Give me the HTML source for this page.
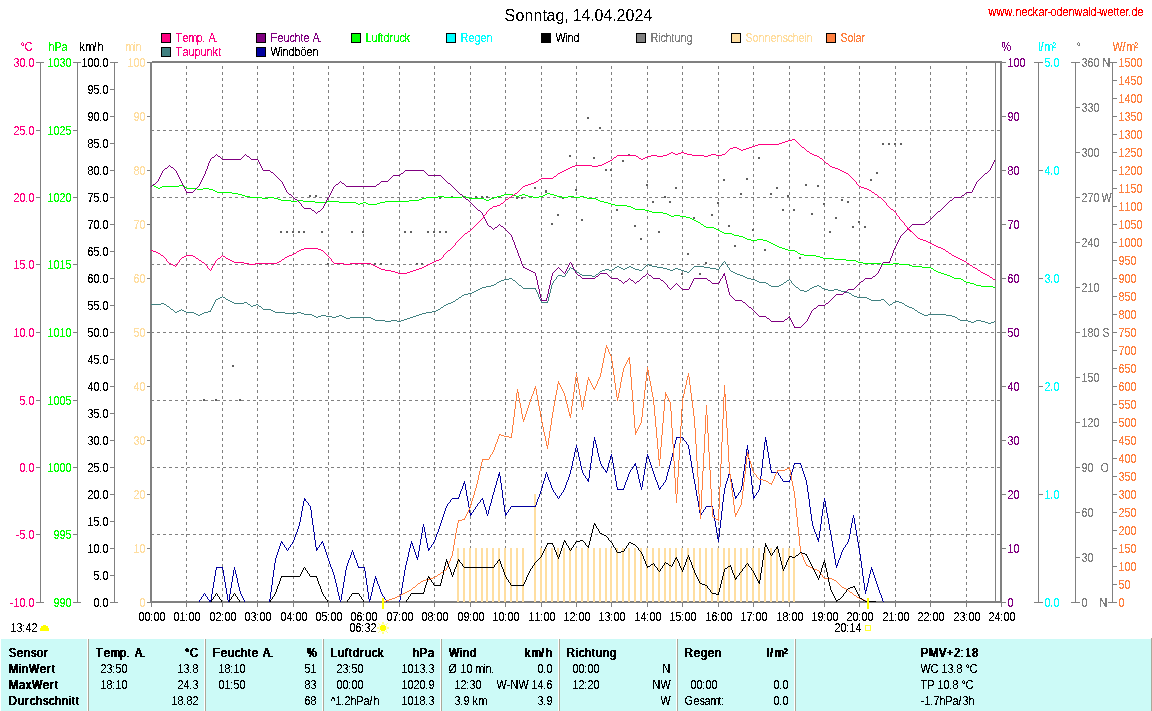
<!DOCTYPE html>
<html><head><meta charset="utf-8"><title>Wetter</title>
<style>html,body{margin:0;padding:0;background:#fff}svg{display:block;will-change:transform}text{white-space:pre}</style></head>
<body>
<svg width="1152" height="711" viewBox="0 0 1152 711" font-family='"Liberation Sans", Arial, sans-serif' shape-rendering="crispEdges">
<rect x="0" y="0" width="1152" height="711" fill="#fff"/>
<defs><filter id="bin2" x="0" y="0" width="1152" height="711" filterUnits="userSpaceOnUse" color-interpolation-filters="sRGB"><feComponentTransfer><feFuncA type="discrete" tableValues="0 0 0 0 0 1 1 1 1 1"/></feComponentTransfer></filter><filter id="binb" x="0" y="0" width="1152" height="711" filterUnits="userSpaceOnUse" color-interpolation-filters="sRGB"><feComponentTransfer result="a"><feFuncA type="discrete" tableValues="0 0 1 1 1"/></feComponentTransfer><feOffset in="a" dx="1" dy="0" result="b"/><feMerge><feMergeNode in="a"/><feMergeNode in="b"/></feMerge></filter><filter id="bin" x="0" y="0" width="1152" height="711" filterUnits="userSpaceOnUse" color-interpolation-filters="sRGB"><feComponentTransfer><feFuncA type="discrete" tableValues="0 0 1 1 1"/></feComponentTransfer></filter></defs>
<rect x="161" y="33" width="10" height="10" fill="#000"/>
<rect x="162" y="34" width="8" height="8" fill="#FF0080"/>
<rect x="161" y="47" width="10" height="10" fill="#000"/>
<rect x="162" y="48" width="8" height="8" fill="#408080"/>
<rect x="256" y="33" width="10" height="10" fill="#000"/>
<rect x="257" y="34" width="8" height="8" fill="#800080"/>
<rect x="256" y="47" width="10" height="10" fill="#000"/>
<rect x="257" y="48" width="8" height="8" fill="#0000A0"/>
<rect x="351" y="33" width="10" height="10" fill="#000"/>
<rect x="352" y="34" width="8" height="8" fill="#00FF00"/>
<rect x="446" y="33" width="10" height="10" fill="#000"/>
<rect x="447" y="34" width="8" height="8" fill="#00FFFF"/>
<rect x="541" y="33" width="10" height="10" fill="#000"/>
<rect x="542" y="34" width="8" height="8" fill="#000"/>
<rect x="636" y="33" width="10" height="10" fill="#000"/>
<rect x="637" y="34" width="8" height="8" fill="#808080"/>
<rect x="731" y="33" width="10" height="10" fill="#000"/>
<rect x="732" y="34" width="8" height="8" fill="#FFDEA0"/>
<rect x="826" y="33" width="10" height="10" fill="#000"/>
<rect x="827" y="34" width="8" height="8" fill="#FF8040"/>
<rect x="40" y="62" width="1" height="541" fill="#808080"/>
<rect x="36" y="602" width="4" height="1" fill="#808080"/>
<rect x="36" y="534" width="4" height="1" fill="#808080"/>
<rect x="36" y="467" width="4" height="1" fill="#808080"/>
<rect x="36" y="400" width="4" height="1" fill="#808080"/>
<rect x="36" y="332" width="4" height="1" fill="#808080"/>
<rect x="36" y="264" width="4" height="1" fill="#808080"/>
<rect x="36" y="197" width="4" height="1" fill="#808080"/>
<rect x="36" y="130" width="4" height="1" fill="#808080"/>
<rect x="36" y="62" width="4" height="1" fill="#808080"/>
<rect x="37" y="62" width="7" height="1" fill="#808080"/>
<rect x="37" y="602" width="7" height="1" fill="#808080"/>
<rect x="77" y="62" width="1" height="541" fill="#808080"/>
<rect x="73" y="602" width="4" height="1" fill="#808080"/>
<rect x="73" y="534" width="4" height="1" fill="#808080"/>
<rect x="73" y="467" width="4" height="1" fill="#808080"/>
<rect x="73" y="400" width="4" height="1" fill="#808080"/>
<rect x="73" y="332" width="4" height="1" fill="#808080"/>
<rect x="73" y="264" width="4" height="1" fill="#808080"/>
<rect x="73" y="197" width="4" height="1" fill="#808080"/>
<rect x="73" y="130" width="4" height="1" fill="#808080"/>
<rect x="73" y="62" width="4" height="1" fill="#808080"/>
<rect x="74" y="62" width="7" height="1" fill="#808080"/>
<rect x="74" y="602" width="7" height="1" fill="#808080"/>
<rect x="114" y="62" width="1" height="541" fill="#808080"/>
<rect x="110" y="602" width="4" height="1" fill="#808080"/>
<rect x="110" y="575" width="4" height="1" fill="#808080"/>
<rect x="110" y="548" width="4" height="1" fill="#808080"/>
<rect x="110" y="521" width="4" height="1" fill="#808080"/>
<rect x="110" y="494" width="4" height="1" fill="#808080"/>
<rect x="110" y="467" width="4" height="1" fill="#808080"/>
<rect x="110" y="440" width="4" height="1" fill="#808080"/>
<rect x="110" y="413" width="4" height="1" fill="#808080"/>
<rect x="110" y="386" width="4" height="1" fill="#808080"/>
<rect x="110" y="359" width="4" height="1" fill="#808080"/>
<rect x="110" y="332" width="4" height="1" fill="#808080"/>
<rect x="110" y="305" width="4" height="1" fill="#808080"/>
<rect x="110" y="278" width="4" height="1" fill="#808080"/>
<rect x="110" y="251" width="4" height="1" fill="#808080"/>
<rect x="110" y="224" width="4" height="1" fill="#808080"/>
<rect x="110" y="197" width="4" height="1" fill="#808080"/>
<rect x="110" y="170" width="4" height="1" fill="#808080"/>
<rect x="110" y="143" width="4" height="1" fill="#808080"/>
<rect x="110" y="116" width="4" height="1" fill="#808080"/>
<rect x="110" y="89" width="4" height="1" fill="#808080"/>
<rect x="110" y="62" width="4" height="1" fill="#808080"/>
<rect x="111" y="62" width="7" height="1" fill="#808080"/>
<rect x="111" y="602" width="7" height="1" fill="#808080"/>
<rect x="147" y="602" width="4" height="1" fill="#808080"/>
<rect x="147" y="548" width="4" height="1" fill="#808080"/>
<rect x="147" y="494" width="4" height="1" fill="#808080"/>
<rect x="147" y="440" width="4" height="1" fill="#808080"/>
<rect x="147" y="386" width="4" height="1" fill="#808080"/>
<rect x="147" y="332" width="4" height="1" fill="#808080"/>
<rect x="147" y="278" width="4" height="1" fill="#808080"/>
<rect x="147" y="224" width="4" height="1" fill="#808080"/>
<rect x="147" y="170" width="4" height="1" fill="#808080"/>
<rect x="147" y="116" width="4" height="1" fill="#808080"/>
<rect x="147" y="62" width="4" height="1" fill="#808080"/>
<rect x="1002" y="602" width="4" height="1" fill="#808080"/>
<rect x="1002" y="548" width="4" height="1" fill="#808080"/>
<rect x="1002" y="494" width="4" height="1" fill="#808080"/>
<rect x="1002" y="440" width="4" height="1" fill="#808080"/>
<rect x="1002" y="386" width="4" height="1" fill="#808080"/>
<rect x="1002" y="332" width="4" height="1" fill="#808080"/>
<rect x="1002" y="278" width="4" height="1" fill="#808080"/>
<rect x="1002" y="224" width="4" height="1" fill="#808080"/>
<rect x="1002" y="170" width="4" height="1" fill="#808080"/>
<rect x="1002" y="116" width="4" height="1" fill="#808080"/>
<rect x="1002" y="62" width="4" height="1" fill="#808080"/>
<rect x="1038" y="62" width="1" height="541" fill="#808080"/>
<rect x="1039" y="602" width="4" height="1" fill="#808080"/>
<rect x="1039" y="494" width="4" height="1" fill="#808080"/>
<rect x="1039" y="386" width="4" height="1" fill="#808080"/>
<rect x="1039" y="278" width="4" height="1" fill="#808080"/>
<rect x="1039" y="170" width="4" height="1" fill="#808080"/>
<rect x="1039" y="62" width="4" height="1" fill="#808080"/>
<rect x="1034" y="62" width="9" height="1" fill="#808080"/>
<rect x="1034" y="602" width="9" height="1" fill="#808080"/>
<rect x="1075" y="62" width="1" height="541" fill="#808080"/>
<rect x="1071" y="62" width="9" height="1" fill="#808080"/>
<rect x="1071" y="602" width="9" height="1" fill="#808080"/>
<rect x="1076" y="602" width="4" height="1" fill="#808080"/>
<rect x="1076" y="557" width="4" height="1" fill="#808080"/>
<rect x="1076" y="512" width="4" height="1" fill="#808080"/>
<rect x="1076" y="467" width="4" height="1" fill="#808080"/>
<rect x="1076" y="422" width="4" height="1" fill="#808080"/>
<rect x="1076" y="377" width="4" height="1" fill="#808080"/>
<rect x="1076" y="332" width="4" height="1" fill="#808080"/>
<rect x="1076" y="287" width="4" height="1" fill="#808080"/>
<rect x="1076" y="242" width="4" height="1" fill="#808080"/>
<rect x="1076" y="197" width="4" height="1" fill="#808080"/>
<rect x="1076" y="152" width="4" height="1" fill="#808080"/>
<rect x="1076" y="107" width="4" height="1" fill="#808080"/>
<rect x="1076" y="62" width="4" height="1" fill="#808080"/>
<rect x="1112" y="62" width="1" height="541" fill="#808080"/>
<rect x="1113" y="602" width="4" height="1" fill="#808080"/>
<rect x="1113" y="584" width="4" height="1" fill="#808080"/>
<rect x="1113" y="566" width="4" height="1" fill="#808080"/>
<rect x="1113" y="548" width="4" height="1" fill="#808080"/>
<rect x="1113" y="530" width="4" height="1" fill="#808080"/>
<rect x="1113" y="512" width="4" height="1" fill="#808080"/>
<rect x="1113" y="494" width="4" height="1" fill="#808080"/>
<rect x="1113" y="476" width="4" height="1" fill="#808080"/>
<rect x="1113" y="458" width="4" height="1" fill="#808080"/>
<rect x="1113" y="440" width="4" height="1" fill="#808080"/>
<rect x="1113" y="422" width="4" height="1" fill="#808080"/>
<rect x="1113" y="404" width="4" height="1" fill="#808080"/>
<rect x="1113" y="386" width="4" height="1" fill="#808080"/>
<rect x="1113" y="368" width="4" height="1" fill="#808080"/>
<rect x="1113" y="350" width="4" height="1" fill="#808080"/>
<rect x="1113" y="332" width="4" height="1" fill="#808080"/>
<rect x="1113" y="314" width="4" height="1" fill="#808080"/>
<rect x="1113" y="296" width="4" height="1" fill="#808080"/>
<rect x="1113" y="278" width="4" height="1" fill="#808080"/>
<rect x="1113" y="260" width="4" height="1" fill="#808080"/>
<rect x="1113" y="242" width="4" height="1" fill="#808080"/>
<rect x="1113" y="224" width="4" height="1" fill="#808080"/>
<rect x="1113" y="206" width="4" height="1" fill="#808080"/>
<rect x="1113" y="188" width="4" height="1" fill="#808080"/>
<rect x="1113" y="170" width="4" height="1" fill="#808080"/>
<rect x="1113" y="152" width="4" height="1" fill="#808080"/>
<rect x="1113" y="134" width="4" height="1" fill="#808080"/>
<rect x="1113" y="116" width="4" height="1" fill="#808080"/>
<rect x="1113" y="98" width="4" height="1" fill="#808080"/>
<rect x="1113" y="80" width="4" height="1" fill="#808080"/>
<rect x="1113" y="62" width="4" height="1" fill="#808080"/>
<rect x="1108" y="62" width="9" height="1" fill="#808080"/>
<rect x="1108" y="602" width="9" height="1" fill="#808080"/>
<line x1="186.5" y1="66" x2="186.5" y2="601" stroke="#808080" stroke-width="1" stroke-dasharray="3,3"/>
<line x1="222.5" y1="66" x2="222.5" y2="601" stroke="#808080" stroke-width="1" stroke-dasharray="3,3"/>
<line x1="257.5" y1="66" x2="257.5" y2="601" stroke="#808080" stroke-width="1" stroke-dasharray="3,3"/>
<line x1="293.5" y1="66" x2="293.5" y2="601" stroke="#808080" stroke-width="1" stroke-dasharray="3,3"/>
<line x1="328.5" y1="66" x2="328.5" y2="601" stroke="#808080" stroke-width="1" stroke-dasharray="3,3"/>
<line x1="363.5" y1="66" x2="363.5" y2="601" stroke="#808080" stroke-width="1" stroke-dasharray="3,3"/>
<line x1="399.5" y1="66" x2="399.5" y2="601" stroke="#808080" stroke-width="1" stroke-dasharray="3,3"/>
<line x1="434.5" y1="66" x2="434.5" y2="601" stroke="#808080" stroke-width="1" stroke-dasharray="3,3"/>
<line x1="470.5" y1="66" x2="470.5" y2="601" stroke="#808080" stroke-width="1" stroke-dasharray="3,3"/>
<line x1="505.5" y1="66" x2="505.5" y2="601" stroke="#808080" stroke-width="1" stroke-dasharray="3,3"/>
<line x1="541.5" y1="66" x2="541.5" y2="601" stroke="#808080" stroke-width="1" stroke-dasharray="3,3"/>
<line x1="576.5" y1="66" x2="576.5" y2="601" stroke="#808080" stroke-width="1" stroke-dasharray="3,3"/>
<line x1="611.5" y1="66" x2="611.5" y2="601" stroke="#808080" stroke-width="1" stroke-dasharray="3,3"/>
<line x1="647.5" y1="66" x2="647.5" y2="601" stroke="#808080" stroke-width="1" stroke-dasharray="3,3"/>
<line x1="682.5" y1="66" x2="682.5" y2="601" stroke="#808080" stroke-width="1" stroke-dasharray="3,3"/>
<line x1="718.5" y1="66" x2="718.5" y2="601" stroke="#808080" stroke-width="1" stroke-dasharray="3,3"/>
<line x1="753.5" y1="66" x2="753.5" y2="601" stroke="#808080" stroke-width="1" stroke-dasharray="3,3"/>
<line x1="789.5" y1="66" x2="789.5" y2="601" stroke="#808080" stroke-width="1" stroke-dasharray="3,3"/>
<line x1="824.5" y1="66" x2="824.5" y2="601" stroke="#808080" stroke-width="1" stroke-dasharray="3,3"/>
<line x1="859.5" y1="66" x2="859.5" y2="601" stroke="#808080" stroke-width="1" stroke-dasharray="3,3"/>
<line x1="895.5" y1="66" x2="895.5" y2="601" stroke="#808080" stroke-width="1" stroke-dasharray="3,3"/>
<line x1="930.5" y1="66" x2="930.5" y2="601" stroke="#808080" stroke-width="1" stroke-dasharray="3,3"/>
<line x1="966.5" y1="66" x2="966.5" y2="601" stroke="#808080" stroke-width="1" stroke-dasharray="3,3"/>
<line x1="151" y1="130.5" x2="1000" y2="130.5" stroke="#808080" stroke-width="1" stroke-dasharray="3,3"/>
<line x1="151" y1="197.5" x2="1000" y2="197.5" stroke="#808080" stroke-width="1" stroke-dasharray="3,3"/>
<line x1="151" y1="264.5" x2="1000" y2="264.5" stroke="#808080" stroke-width="1" stroke-dasharray="3,3"/>
<line x1="151" y1="332.5" x2="1000" y2="332.5" stroke="#808080" stroke-width="1" stroke-dasharray="3,3"/>
<line x1="151" y1="400.5" x2="1000" y2="400.5" stroke="#808080" stroke-width="1" stroke-dasharray="3,3"/>
<line x1="151" y1="467.5" x2="1000" y2="467.5" stroke="#808080" stroke-width="1" stroke-dasharray="3,3"/>
<line x1="151" y1="534.5" x2="1000" y2="534.5" stroke="#808080" stroke-width="1" stroke-dasharray="3,3"/>
<rect x="150" y="62" width="2" height="541" fill="#808080"/>
<rect x="152" y="61" width="850" height="2" fill="#808080"/>
<rect x="150" y="601" width="852" height="2" fill="#808080"/>
<rect x="1000" y="61" width="2" height="542" fill="#808080"/>
<rect x="147" y="62" width="3" height="1" fill="#808080"/>
<rect x="147" y="602" width="3" height="1" fill="#808080"/>
<rect x="457" y="548" width="2" height="54" fill="#FFDEA0"/>
<rect x="463" y="548" width="2" height="54" fill="#FFDEA0"/>
<rect x="469" y="548" width="2" height="54" fill="#FFDEA0"/>
<rect x="475" y="548" width="2" height="54" fill="#FFDEA0"/>
<rect x="481" y="548" width="2" height="54" fill="#FFDEA0"/>
<rect x="486" y="548" width="2" height="54" fill="#FFDEA0"/>
<rect x="492" y="548" width="2" height="54" fill="#FFDEA0"/>
<rect x="498" y="548" width="2" height="54" fill="#FFDEA0"/>
<rect x="504" y="548" width="2" height="54" fill="#FFDEA0"/>
<rect x="510" y="548" width="2" height="54" fill="#FFDEA0"/>
<rect x="516" y="548" width="2" height="54" fill="#FFDEA0"/>
<rect x="522" y="548" width="2" height="54" fill="#FFDEA0"/>
<rect x="540" y="548" width="2" height="54" fill="#FFDEA0"/>
<rect x="545" y="548" width="2" height="54" fill="#FFDEA0"/>
<rect x="551" y="548" width="2" height="54" fill="#FFDEA0"/>
<rect x="557" y="548" width="2" height="54" fill="#FFDEA0"/>
<rect x="563" y="548" width="2" height="54" fill="#FFDEA0"/>
<rect x="569" y="548" width="2" height="54" fill="#FFDEA0"/>
<rect x="575" y="548" width="2" height="54" fill="#FFDEA0"/>
<rect x="581" y="548" width="2" height="54" fill="#FFDEA0"/>
<rect x="587" y="548" width="2" height="54" fill="#FFDEA0"/>
<rect x="593" y="548" width="2" height="54" fill="#FFDEA0"/>
<rect x="599" y="548" width="2" height="54" fill="#FFDEA0"/>
<rect x="605" y="548" width="2" height="54" fill="#FFDEA0"/>
<rect x="610" y="548" width="2" height="54" fill="#FFDEA0"/>
<rect x="616" y="548" width="2" height="54" fill="#FFDEA0"/>
<rect x="622" y="548" width="2" height="54" fill="#FFDEA0"/>
<rect x="628" y="548" width="2" height="54" fill="#FFDEA0"/>
<rect x="634" y="548" width="2" height="54" fill="#FFDEA0"/>
<rect x="640" y="548" width="2" height="54" fill="#FFDEA0"/>
<rect x="646" y="548" width="2" height="54" fill="#FFDEA0"/>
<rect x="652" y="548" width="2" height="54" fill="#FFDEA0"/>
<rect x="658" y="548" width="2" height="54" fill="#FFDEA0"/>
<rect x="664" y="548" width="2" height="54" fill="#FFDEA0"/>
<rect x="669" y="548" width="2" height="54" fill="#FFDEA0"/>
<rect x="675" y="548" width="2" height="54" fill="#FFDEA0"/>
<rect x="681" y="548" width="2" height="54" fill="#FFDEA0"/>
<rect x="687" y="548" width="2" height="54" fill="#FFDEA0"/>
<rect x="693" y="548" width="2" height="54" fill="#FFDEA0"/>
<rect x="699" y="548" width="2" height="54" fill="#FFDEA0"/>
<rect x="705" y="548" width="2" height="54" fill="#FFDEA0"/>
<rect x="711" y="548" width="2" height="54" fill="#FFDEA0"/>
<rect x="717" y="548" width="2" height="54" fill="#FFDEA0"/>
<rect x="723" y="548" width="2" height="54" fill="#FFDEA0"/>
<rect x="728" y="548" width="2" height="54" fill="#FFDEA0"/>
<rect x="734" y="548" width="2" height="54" fill="#FFDEA0"/>
<rect x="740" y="548" width="2" height="54" fill="#FFDEA0"/>
<rect x="746" y="548" width="2" height="54" fill="#FFDEA0"/>
<rect x="752" y="548" width="2" height="54" fill="#FFDEA0"/>
<rect x="758" y="548" width="2" height="54" fill="#FFDEA0"/>
<rect x="764" y="548" width="2" height="54" fill="#FFDEA0"/>
<rect x="770" y="548" width="2" height="54" fill="#FFDEA0"/>
<rect x="776" y="548" width="2" height="54" fill="#FFDEA0"/>
<rect x="782" y="548" width="2" height="54" fill="#FFDEA0"/>
<rect x="788" y="548" width="2" height="54" fill="#FFDEA0"/>
<rect x="793" y="548" width="2" height="54" fill="#FFDEA0"/>
<rect x="534" y="494" width="2" height="108" fill="#FFDEA0"/>
<rect x="280" y="231" width="2" height="2" fill="#606060"/>
<rect x="286" y="231" width="2" height="2" fill="#606060"/>
<rect x="292" y="231" width="2" height="2" fill="#606060"/>
<rect x="298" y="231" width="2" height="2" fill="#606060"/>
<rect x="303" y="231" width="2" height="2" fill="#606060"/>
<rect x="321" y="231" width="2" height="2" fill="#606060"/>
<rect x="351" y="231" width="2" height="2" fill="#606060"/>
<rect x="362" y="231" width="2" height="2" fill="#606060"/>
<rect x="404" y="231" width="2" height="2" fill="#606060"/>
<rect x="410" y="231" width="2" height="2" fill="#606060"/>
<rect x="427" y="231" width="2" height="2" fill="#606060"/>
<rect x="433" y="231" width="2" height="2" fill="#606060"/>
<rect x="439" y="231" width="2" height="2" fill="#606060"/>
<rect x="445" y="231" width="2" height="2" fill="#606060"/>
<rect x="534" y="187" width="2" height="2" fill="#606060"/>
<rect x="545" y="191" width="2" height="2" fill="#606060"/>
<rect x="551" y="223" width="2" height="2" fill="#606060"/>
<rect x="557" y="214" width="2" height="2" fill="#606060"/>
<rect x="569" y="155" width="2" height="2" fill="#606060"/>
<rect x="575" y="189" width="2" height="2" fill="#606060"/>
<rect x="581" y="219" width="2" height="2" fill="#606060"/>
<rect x="593" y="157" width="2" height="2" fill="#606060"/>
<rect x="605" y="169" width="2" height="2" fill="#606060"/>
<rect x="610" y="169" width="2" height="2" fill="#606060"/>
<rect x="616" y="209" width="2" height="2" fill="#606060"/>
<rect x="622" y="160" width="2" height="2" fill="#606060"/>
<rect x="628" y="154" width="2" height="2" fill="#606060"/>
<rect x="634" y="225" width="2" height="2" fill="#606060"/>
<rect x="640" y="238" width="2" height="2" fill="#606060"/>
<rect x="646" y="184" width="2" height="2" fill="#606060"/>
<rect x="652" y="201" width="2" height="2" fill="#606060"/>
<rect x="658" y="231" width="2" height="2" fill="#606060"/>
<rect x="664" y="196" width="2" height="2" fill="#606060"/>
<rect x="669" y="201" width="2" height="2" fill="#606060"/>
<rect x="675" y="187" width="2" height="2" fill="#606060"/>
<rect x="693" y="217" width="2" height="2" fill="#606060"/>
<rect x="711" y="214" width="2" height="2" fill="#606060"/>
<rect x="717" y="202" width="2" height="2" fill="#606060"/>
<rect x="723" y="179" width="2" height="2" fill="#606060"/>
<rect x="728" y="225" width="2" height="2" fill="#606060"/>
<rect x="734" y="245" width="2" height="2" fill="#606060"/>
<rect x="740" y="193" width="2" height="2" fill="#606060"/>
<rect x="746" y="178" width="2" height="2" fill="#606060"/>
<rect x="752" y="229" width="2" height="2" fill="#606060"/>
<rect x="758" y="157" width="2" height="2" fill="#606060"/>
<rect x="770" y="193" width="2" height="2" fill="#606060"/>
<rect x="776" y="187" width="2" height="2" fill="#606060"/>
<rect x="782" y="209" width="2" height="2" fill="#606060"/>
<rect x="787" y="195" width="2" height="2" fill="#606060"/>
<rect x="793" y="209" width="2" height="2" fill="#606060"/>
<rect x="805" y="184" width="2" height="2" fill="#606060"/>
<rect x="811" y="213" width="2" height="2" fill="#606060"/>
<rect x="817" y="185" width="2" height="2" fill="#606060"/>
<rect x="823" y="203" width="2" height="2" fill="#606060"/>
<rect x="829" y="231" width="2" height="2" fill="#606060"/>
<rect x="835" y="217" width="2" height="2" fill="#606060"/>
<rect x="841" y="199" width="2" height="2" fill="#606060"/>
<rect x="847" y="201" width="2" height="2" fill="#606060"/>
<rect x="852" y="226" width="2" height="2" fill="#606060"/>
<rect x="858" y="221" width="2" height="2" fill="#606060"/>
<rect x="864" y="226" width="2" height="2" fill="#606060"/>
<rect x="870" y="179" width="2" height="2" fill="#606060"/>
<rect x="876" y="172" width="2" height="2" fill="#606060"/>
<rect x="882" y="143" width="2" height="2" fill="#606060"/>
<rect x="888" y="143" width="2" height="2" fill="#606060"/>
<rect x="894" y="143" width="2" height="2" fill="#606060"/>
<rect x="900" y="143" width="2" height="2" fill="#606060"/>
<rect x="687" y="253" width="2" height="2" fill="#606060"/>
<rect x="705" y="262" width="2" height="2" fill="#606060"/>
<rect x="699" y="273" width="2" height="2" fill="#606060"/>
<rect x="681" y="273" width="2" height="2" fill="#606060"/>
<rect x="764" y="249" width="2" height="2" fill="#606060"/>
<rect x="799" y="257" width="2" height="2" fill="#606060"/>
<rect x="587" y="117" width="2" height="2" fill="#606060"/>
<rect x="599" y="127" width="2" height="2" fill="#606060"/>
<rect x="232" y="365" width="2" height="2" fill="#606060"/>
<rect x="203" y="399" width="2" height="2" fill="#606060"/>
<rect x="215" y="399" width="2" height="2" fill="#606060"/>
<rect x="239" y="399" width="2" height="2" fill="#606060"/>
<rect x="309" y="195" width="2" height="2" fill="#606060"/>
<rect x="315" y="195" width="2" height="2" fill="#606060"/>
<rect x="451" y="196" width="2" height="2" fill="#606060"/>
<rect x="475" y="196" width="2" height="2" fill="#606060"/>
<rect x="481" y="196" width="2" height="2" fill="#606060"/>
<rect x="486" y="196" width="2" height="2" fill="#606060"/>
<rect x="498" y="196" width="2" height="2" fill="#606060"/>
<rect x="327" y="263" width="2" height="2" fill="#606060"/>
<rect x="374" y="263" width="2" height="2" fill="#606060"/>
<rect x="380" y="263" width="2" height="2" fill="#606060"/>
<rect x="416" y="263" width="2" height="2" fill="#606060"/>
<rect x="421" y="263" width="2" height="2" fill="#606060"/>
<rect x="439" y="197" width="2" height="2" fill="#606060"/>
<rect x="492" y="197" width="2" height="2" fill="#606060"/>
<rect x="516" y="197" width="2" height="2" fill="#606060"/>
<rect x="521" y="197" width="2" height="2" fill="#606060"/>
<rect x="545" y="190" width="2" height="2" fill="#606060"/>
<rect x="562" y="197" width="2" height="2" fill="#606060"/>
<path fill="#00FF00" d="M881 264h12v1h-12zM899 264h10v1h-10zM250 197h12v1h-12zM268 197h6v1h-6zM426 197h12v1h-12zM444 197h18v1h-18zM466 197h3v1h-3zM493 197h4v1h-4zM533 197h6v1h-6zM562 197h6v1h-6zM574 197h6v1h-6zM584 197h3v1h-3zM944 274h3v1h-3zM245 196h5v1h-5zM438 196h6v1h-6zM462 196h4v1h-4zM497 196h4v1h-4zM516 196h3v1h-3zM528 196h5v1h-5zM539 196h4v1h-4zM557 196h5v1h-5zM568 196h6v1h-6zM580 196h4v1h-4zM863 263h18v1h-18zM893 263h6v1h-6zM912 266h10v1h-10zM976 285h5v1h-5zM278 199h3v1h-3zM419 199h3v1h-3zM484 199h2v1h-2zM489 199h2v1h-2zM596 199h2v1h-2zM356 203h2v1h-2zM360 203h3v1h-3zM366 203h2v1h-2zM377 203h3v1h-3zM608 203h3v1h-3zM238 194h4v1h-4zM504 194h9v1h-9zM522 194h3v1h-3zM545 194h2v1h-2zM550 194h4v1h-4zM692 219h2v1h-2zM291 201h6v1h-6zM303 201h12v1h-12zM327 201h12v1h-12zM385 201h24v1h-24zM600 201h4v1h-4zM993 287h3v1h-3zM217 192h15v1h-15zM706 227h8v1h-8zM281 200h10v1h-10zM297 200h6v1h-6zM409 200h10v1h-10zM486 200h3v1h-3zM598 200h2v1h-2zM823 258h11v1h-11zM846 260h10v1h-10zM156 187h2v1h-2zM160 187h2v1h-2zM185 187h2v1h-2zM981 286h12v1h-12zM197 189h6v1h-6zM209 189h4v1h-4zM954 278h7v1h-7zM358 204h2v1h-2zM368 204h9v1h-9zM611 204h4v1h-4zM734 235h5v1h-5zM785 249h3v1h-3zM615 205h12v1h-12zM696 221h2v1h-2zM686 217h4v1h-4zM718 230h2v1h-2zM739 236h4v1h-4zM722 232h2v1h-2zM788 250h7v1h-7zM652 212h11v1h-11zM627 206h4v1h-4zM242 195h3v1h-3zM501 195h3v1h-3zM513 195h3v1h-3zM519 195h3v1h-3zM525 195h3v1h-3zM543 195h2v1h-2zM554 195h3v1h-3zM315 202h12v1h-12zM339 202h17v1h-17zM363 202h3v1h-3zM380 202h5v1h-5zM604 202h4v1h-4zM158 188h2v1h-2zM187 188h10v1h-10zM203 188h6v1h-6zM154 186h2v1h-2zM162 186h17v1h-17zM183 186h2v1h-2zM922 267h9v1h-9zM714 228h2v1h-2zM635 209h10v1h-10zM745 238h2v1h-2zM262 198h6v1h-6zM274 198h4v1h-4zM422 198h4v1h-4zM469 198h15v1h-15zM491 198h2v1h-2zM587 198h9v1h-9zM804 255h12v1h-12zM963 280h1v1h-1zM232 193h6v1h-6zM547 193h3v1h-3zM747 239h4v1h-4zM757 239h6v1h-6zM834 259h12v1h-12zM964 281h2v1h-2zM631 207h2v1h-2zM663 213h4v1h-4zM669 215h2v1h-2zM674 215h6v1h-6zM152 185h2v1h-2zM179 185h4v1h-4zM966 282h4v1h-4zM645 210h4v1h-4zM671 216h3v1h-3zM680 216h6v1h-6zM909 265h3v1h-3zM649 211h3v1h-3zM724 233h8v1h-8zM800 254h4v1h-4zM856 261h2v1h-2zM970 283h4v1h-4zM858 262h5v1h-5zM797 252h1v1h-1zM816 256h4v1h-4zM974 284h2v1h-2zM936 271h2v1h-2zM751 240h6v1h-6zM763 240h4v1h-4zM732 234h2v1h-2zM941 273h3v1h-3zM933 269h1v1h-1zM773 244h2v1h-2zM777 246h2v1h-2zM694 220h2v1h-2zM947 275h3v1h-3zM769 242h2v1h-2zM938 272h3v1h-3zM213 190h2v1h-2zM698 222h2v1h-2zM215 191h2v1h-2zM779 247h3v1h-3zM820 257h3v1h-3zM782 248h3v1h-3zM701 224h2v1h-2zM720 231h2v1h-2zM950 276h2v1h-2zM716 229h2v1h-2zM633 208h2v1h-2zM795 251h2v1h-2zM798 253h2v1h-2zM961 279h2v1h-2zM703 225h1v1h-1zM704 226h2v1h-2zM934 270h2v1h-2zM775 245h2v1h-2zM767 241h2v1h-2zM771 243h2v1h-2zM690 218h2v1h-2zM952 277h2v1h-2zM700 223h1v1h-1zM743 237h2v1h-2zM667 214h2v1h-2zM931 268h2v1h-2z"/>
<path fill="#800080" d="M726 280h1v4h-1zM550 280h1v5h-1zM729 292h1v3h-1zM514 242h1v3h-1zM208 163h1v3h-1zM546 298h1v3h-1zM520 258h1v3h-1zM725 276h1v4h-1zM728 288h1v4h-1zM535 273h1v3h-1zM207 166h1v3h-1zM538 285h1v4h-1zM549 285h1v4h-1zM727 284h1v4h-1zM541 298h1v3h-1zM892 253h1v3h-1zM537 280h1v5h-1zM724 273h1v3h-1zM548 289h1v5h-1zM540 294h1v4h-1zM205 171h1v3h-1zM515 245h1v3h-1zM512 237h1v3h-1zM552 273h1v3h-1zM518 253h1v3h-1zM551 276h1v4h-1zM547 294h1v4h-1zM539 289h1v5h-1zM536 276h1v4h-1zM890 258h1v3h-1zM893 250h1v3h-1zM521 261h1v3h-1zM517 250h1v3h-1zM209 161h1v1h-1zM258 161h1v1h-1zM994 161h1v1h-1zM260 164h1v1h-1zM992 164h1v1h-1zM794 327h7v1h-7zM580 276h1v1h-1zM596 276h2v1h-2zM609 276h1v1h-1zM643 276h2v1h-2zM651 276h1v1h-1zM722 276h1v1h-1zM873 276h2v1h-2zM747 305h1v1h-1zM818 305h7v1h-7zM621 281h1v1h-1zM625 281h2v1h-2zM633 281h1v1h-1zM637 281h2v1h-2zM663 281h1v1h-1zM692 281h1v1h-1zM710 281h1v1h-1zM719 281h1v1h-1zM861 281h2v1h-2zM753 310h1v1h-1zM812 310h1v1h-1zM159 178h1v1h-1zM179 178h1v1h-1zM202 178h1v1h-1zM278 178h1v1h-1zM390 178h1v1h-1zM443 178h1v1h-1zM980 178h1v1h-1zM210 159h1v1h-1zM222 159h19v1h-19zM251 159h7v1h-7zM995 159h1v1h-1zM215 155h1v1h-1zM217 155h1v1h-1zM244 155h1v1h-1zM246 155h1v1h-1zM531 271h2v1h-2zM554 271h1v1h-1zM562 271h1v1h-1zM565 271h1v1h-1zM575 271h1v1h-1zM878 271h1v1h-1zM293 197h1v1h-1zM328 197h1v1h-1zM464 197h1v1h-1zM954 197h7v1h-7zM153 184h2v1h-2zM182 184h1v1h-1zM199 184h1v1h-1zM283 184h1v1h-1zM336 184h2v1h-2zM344 184h1v1h-1zM377 184h2v1h-2zM450 184h1v1h-1zM975 184h1v1h-1zM151 186h1v1h-1zM183 186h1v1h-1zM198 186h1v1h-1zM284 186h1v1h-1zM334 186h1v1h-1zM346 186h30v1h-30zM452 186h1v1h-1zM974 186h1v1h-1zM889 261h1v1h-1zM511 235h1v1h-1zM901 235h1v1h-1zM523 266h1v1h-1zM568 266h1v1h-1zM572 266h1v1h-1zM881 266h1v1h-1zM158 180h1v1h-1zM180 180h1v1h-1zM201 180h1v1h-1zM280 180h1v1h-1zM388 180h1v1h-1zM445 180h1v1h-1zM978 180h1v1h-1zM163 170h1v1h-1zM175 170h1v1h-1zM206 170h1v1h-1zM263 170h7v1h-7zM405 170h19v1h-19zM989 170h1v1h-1zM304 208h7v1h-7zM322 208h1v1h-1zM476 208h1v1h-1zM942 208h1v1h-1zM158 179h1v1h-1zM180 179h1v1h-1zM202 179h1v1h-1zM279 179h1v1h-1zM389 179h1v1h-1zM444 179h1v1h-1zM979 179h1v1h-1zM214 156h1v1h-1zM218 156h2v1h-2zM243 156h1v1h-1zM247 156h2v1h-2zM186 192h7v1h-7zM287 192h1v1h-1zM331 192h1v1h-1zM458 192h1v1h-1zM966 192h6v1h-6zM506 230h1v1h-1zM906 230h1v1h-1zM298 201h1v1h-1zM326 201h1v1h-1zM469 201h1v1h-1zM949 201h1v1h-1zM582 278h13v1h-13zM611 278h7v1h-7zM629 278h1v1h-1zM641 278h1v1h-1zM653 278h7v1h-7zM694 278h13v1h-13zM721 278h1v1h-1zM865 278h7v1h-7zM294 198h1v1h-1zM327 198h1v1h-1zM465 198h1v1h-1zM953 198h1v1h-1zM619 280h2v1h-2zM627 280h1v1h-1zM631 280h2v1h-2zM639 280h1v1h-1zM661 280h2v1h-2zM693 280h1v1h-1zM708 280h2v1h-2zM720 280h1v1h-1zM863 280h1v1h-1zM623 283h1v1h-1zM635 283h1v1h-1zM665 283h1v1h-1zM676 283h1v1h-1zM691 283h1v1h-1zM712 283h7v1h-7zM859 283h1v1h-1zM771 321h13v1h-13zM791 321h1v1h-1zM806 321h1v1h-1zM185 190h1v1h-1zM194 190h1v1h-1zM286 190h1v1h-1zM332 190h1v1h-1zM456 190h1v1h-1zM972 190h1v1h-1zM522 264h1v1h-1zM569 264h1v1h-1zM571 264h1v1h-1zM882 264h1v1h-1zM622 282h1v1h-1zM624 282h1v1h-1zM634 282h1v1h-1zM636 282h1v1h-1zM664 282h1v1h-1zM692 282h1v1h-1zM711 282h1v1h-1zM719 282h1v1h-1zM860 282h1v1h-1zM487 224h1v1h-1zM499 224h1v1h-1zM912 224h13v1h-13zM766 317h1v1h-1zM788 317h2v1h-2zM808 317h1v1h-1zM168 166h1v1h-1zM170 166h1v1h-1zM261 166h1v1h-1zM991 166h1v1h-1zM301 204h1v1h-1zM324 204h1v1h-1zM472 204h1v1h-1zM946 204h1v1h-1zM564 273h1v1h-1zM576 273h1v1h-1zM600 273h7v1h-7zM647 273h1v1h-1zM877 273h1v1h-1zM184 187h1v1h-1zM197 187h1v1h-1zM284 187h1v1h-1zM333 187h1v1h-1zM453 187h1v1h-1zM974 187h1v1h-1zM483 215h1v1h-1zM934 215h1v1h-1zM155 183h1v1h-1zM182 183h1v1h-1zM200 183h1v1h-1zM282 183h1v1h-1zM338 183h1v1h-1zM342 183h2v1h-2zM379 183h1v1h-1zM448 183h2v1h-2zM976 183h1v1h-1zM161 173h1v1h-1zM177 173h1v1h-1zM273 173h1v1h-1zM401 173h2v1h-2zM426 173h1v1h-1zM985 173h2v1h-2zM184 188h1v1h-1zM196 188h1v1h-1zM285 188h1v1h-1zM333 188h1v1h-1zM454 188h1v1h-1zM973 188h1v1h-1zM482 214h1v1h-1zM935 214h1v1h-1zM212 157h2v1h-2zM220 157h1v1h-1zM242 157h1v1h-1zM249 157h1v1h-1zM667 285h1v1h-1zM674 285h1v1h-1zM678 285h1v1h-1zM690 285h1v1h-1zM857 285h1v1h-1zM165 168h2v1h-2zM173 168h1v1h-1zM262 168h1v1h-1zM990 168h1v1h-1zM792 323h1v1h-1zM804 323h1v1h-1zM484 217h1v1h-1zM932 217h1v1h-1zM516 248h1v1h-1zM894 248h1v1h-1zM618 279h1v1h-1zM628 279h1v1h-1zM630 279h1v1h-1zM640 279h1v1h-1zM660 279h1v1h-1zM693 279h1v1h-1zM707 279h1v1h-1zM720 279h1v1h-1zM864 279h1v1h-1zM216 154h1v1h-1zM245 154h1v1h-1zM160 175h1v1h-1zM178 175h1v1h-1zM204 175h1v1h-1zM275 175h1v1h-1zM393 175h7v1h-7zM428 175h13v1h-13zM983 175h1v1h-1zM670 289h1v1h-1zM682 289h7v1h-7zM848 289h6v1h-6zM770 320h1v1h-1zM784 320h1v1h-1zM791 320h1v1h-1zM807 320h1v1h-1zM185 189h1v1h-1zM195 189h1v1h-1zM285 189h1v1h-1zM332 189h1v1h-1zM455 189h1v1h-1zM973 189h1v1h-1zM749 307h2v1h-2zM816 307h1v1h-1zM291 195h1v1h-1zM329 195h1v1h-1zM462 195h1v1h-1zM962 195h2v1h-2zM492 228h1v1h-1zM494 228h1v1h-1zM504 228h1v1h-1zM908 228h1v1h-1zM152 185h1v1h-1zM183 185h1v1h-1zM199 185h1v1h-1zM283 185h1v1h-1zM335 185h1v1h-1zM345 185h1v1h-1zM376 185h1v1h-1zM451 185h1v1h-1zM975 185h1v1h-1zM751 308h1v1h-1zM814 308h2v1h-2zM522 265h1v1h-1zM568 265h1v1h-1zM572 265h1v1h-1zM881 265h1v1h-1zM836 294h7v1h-7zM745 303h1v1h-1zM826 303h2v1h-2zM156 182h1v1h-1zM181 182h1v1h-1zM200 182h1v1h-1zM282 182h1v1h-1zM339 182h1v1h-1zM341 182h1v1h-1zM380 182h1v1h-1zM447 182h1v1h-1zM976 182h1v1h-1zM210 160h1v1h-1zM258 160h1v1h-1zM994 160h1v1h-1zM157 181h1v1h-1zM181 181h1v1h-1zM201 181h1v1h-1zM281 181h1v1h-1zM340 181h1v1h-1zM381 181h7v1h-7zM446 181h1v1h-1zM977 181h1v1h-1zM507 231h1v1h-1zM905 231h1v1h-1zM757 314h1v1h-1zM810 314h1v1h-1zM569 263h1v1h-1zM571 263h1v1h-1zM882 263h1v1h-1zM314 211h1v1h-1zM318 211h2v1h-2zM480 211h1v1h-1zM938 211h2v1h-2zM159 177h1v1h-1zM179 177h1v1h-1zM203 177h1v1h-1zM277 177h1v1h-1zM391 177h1v1h-1zM442 177h1v1h-1zM981 177h1v1h-1zM489 226h2v1h-2zM497 226h1v1h-1zM501 226h2v1h-2zM910 226h1v1h-1zM667 286h1v1h-1zM673 286h1v1h-1zM679 286h1v1h-1zM690 286h1v1h-1zM856 286h1v1h-1zM758 315h1v1h-1zM809 315h1v1h-1zM844 292h2v1h-2zM900 237h1v1h-1zM491 227h1v1h-1zM495 227h2v1h-2zM503 227h1v1h-1zM909 227h1v1h-1zM542 300h4v1h-4zM735 300h7v1h-7zM830 300h1v1h-1zM493 229h1v1h-1zM505 229h1v1h-1zM907 229h1v1h-1zM297 200h1v1h-1zM326 200h1v1h-1zM468 200h1v1h-1zM950 200h2v1h-2zM792 322h1v1h-1zM805 322h1v1h-1zM316 213h1v1h-1zM482 213h1v1h-1zM936 213h1v1h-1zM759 316h7v1h-7zM789 316h1v1h-1zM809 316h1v1h-1zM669 288h1v1h-1zM671 288h1v1h-1zM681 288h1v1h-1zM689 288h1v1h-1zM854 288h1v1h-1zM312 210h2v1h-2zM320 210h1v1h-1zM478 210h2v1h-2zM940 210h1v1h-1zM161 174h1v1h-1zM177 174h1v1h-1zM204 174h1v1h-1zM274 174h1v1h-1zM400 174h1v1h-1zM427 174h1v1h-1zM984 174h1v1h-1zM488 225h1v1h-1zM498 225h1v1h-1zM500 225h1v1h-1zM911 225h1v1h-1zM519 257h1v1h-1zM891 257h1v1h-1zM896 244h1v1h-1zM668 287h1v1h-1zM672 287h1v1h-1zM680 287h1v1h-1zM689 287h1v1h-1zM855 287h1v1h-1zM731 296h1v1h-1zM834 296h1v1h-1zM167 167h1v1h-1zM171 167h2v1h-2zM261 167h1v1h-1zM991 167h1v1h-1zM755 312h1v1h-1zM811 312h1v1h-1zM295 199h2v1h-2zM327 199h1v1h-1zM466 199h2v1h-2zM952 199h1v1h-1zM581 277h1v1h-1zM595 277h1v1h-1zM610 277h1v1h-1zM642 277h1v1h-1zM652 277h1v1h-1zM722 277h1v1h-1zM872 277h1v1h-1zM525 268h2v1h-2zM557 268h1v1h-1zM559 268h1v1h-1zM567 268h1v1h-1zM573 268h1v1h-1zM880 268h1v1h-1zM895 247h1v1h-1zM259 163h1v1h-1zM993 163h1v1h-1zM746 304h1v1h-1zM825 304h1v1h-1zM289 194h2v1h-2zM330 194h1v1h-1zM460 194h2v1h-2zM964 194h1v1h-1zM300 203h1v1h-1zM325 203h1v1h-1zM471 203h1v1h-1zM947 203h1v1h-1zM302 206h1v1h-1zM323 206h1v1h-1zM474 206h1v1h-1zM944 206h1v1h-1zM570 262h1v1h-1zM883 262h7v1h-7zM511 236h1v1h-1zM900 236h1v1h-1zM303 207h1v1h-1zM323 207h1v1h-1zM475 207h1v1h-1zM943 207h1v1h-1zM523 267h2v1h-2zM558 267h1v1h-1zM567 267h1v1h-1zM573 267h1v1h-1zM880 267h1v1h-1zM164 169h1v1h-1zM174 169h1v1h-1zM206 169h1v1h-1zM262 169h1v1h-1zM990 169h1v1h-1zM186 191h1v1h-1zM193 191h1v1h-1zM286 191h1v1h-1zM331 191h1v1h-1zM457 191h1v1h-1zM972 191h1v1h-1zM578 275h2v1h-2zM598 275h1v1h-1zM608 275h1v1h-1zM645 275h1v1h-1zM649 275h2v1h-2zM723 275h1v1h-1zM875 275h1v1h-1zM486 222h1v1h-1zM926 222h2v1h-2zM767 318h2v1h-2zM787 318h1v1h-1zM790 318h1v1h-1zM808 318h1v1h-1zM311 209h1v1h-1zM321 209h1v1h-1zM477 209h1v1h-1zM941 209h1v1h-1zM793 325h1v1h-1zM802 325h1v1h-1zM577 274h1v1h-1zM599 274h1v1h-1zM607 274h1v1h-1zM646 274h1v1h-1zM648 274h1v1h-1zM723 274h1v1h-1zM876 274h1v1h-1zM519 256h1v1h-1zM891 256h1v1h-1zM527 269h2v1h-2zM556 269h1v1h-1zM560 269h1v1h-1zM566 269h1v1h-1zM574 269h1v1h-1zM879 269h1v1h-1zM899 239h1v1h-1zM666 284h1v1h-1zM675 284h1v1h-1zM677 284h1v1h-1zM691 284h1v1h-1zM858 284h1v1h-1zM794 326h1v1h-1zM801 326h1v1h-1zM533 272h2v1h-2zM553 272h1v1h-1zM563 272h1v1h-1zM565 272h1v1h-1zM575 272h1v1h-1zM878 272h1v1h-1zM742 301h1v1h-1zM829 301h1v1h-1zM895 246h1v1h-1zM209 162h1v1h-1zM259 162h1v1h-1zM993 162h1v1h-1zM529 270h2v1h-2zM555 270h1v1h-1zM561 270h1v1h-1zM566 270h1v1h-1zM574 270h1v1h-1zM879 270h1v1h-1zM211 158h1v1h-1zM221 158h1v1h-1zM241 158h1v1h-1zM250 158h1v1h-1zM288 193h1v1h-1zM330 193h1v1h-1zM459 193h1v1h-1zM965 193h1v1h-1zM292 196h1v1h-1zM329 196h1v1h-1zM463 196h1v1h-1zM961 196h1v1h-1zM169 165h1v1h-1zM260 165h1v1h-1zM992 165h1v1h-1zM162 171h1v1h-1zM176 171h1v1h-1zM270 171h1v1h-1zM404 171h1v1h-1zM424 171h1v1h-1zM988 171h1v1h-1zM899 238h1v1h-1zM793 324h1v1h-1zM803 324h1v1h-1zM730 295h1v1h-1zM835 295h1v1h-1zM299 202h1v1h-1zM325 202h1v1h-1zM470 202h1v1h-1zM948 202h1v1h-1zM843 293h1v1h-1zM508 232h1v1h-1zM904 232h1v1h-1zM847 290h1v1h-1zM301 205h1v1h-1zM324 205h1v1h-1zM473 205h1v1h-1zM945 205h1v1h-1zM487 223h1v1h-1zM925 223h1v1h-1zM485 220h1v1h-1zM929 220h1v1h-1zM752 309h1v1h-1zM813 309h1v1h-1zM516 249h1v1h-1zM894 249h1v1h-1zM160 176h1v1h-1zM178 176h1v1h-1zM203 176h1v1h-1zM276 176h1v1h-1zM392 176h1v1h-1zM441 176h1v1h-1zM982 176h1v1h-1zM510 234h1v1h-1zM902 234h1v1h-1zM769 319h1v1h-1zM785 319h2v1h-2zM790 319h1v1h-1zM807 319h1v1h-1zM748 306h1v1h-1zM817 306h1v1h-1zM513 241h1v1h-1zM898 241h1v1h-1zM734 299h1v1h-1zM831 299h1v1h-1zM162 172h1v1h-1zM176 172h1v1h-1zM271 172h2v1h-2zM403 172h1v1h-1zM425 172h1v1h-1zM987 172h1v1h-1zM732 297h1v1h-1zM833 297h1v1h-1zM513 240h1v1h-1zM898 240h1v1h-1zM754 311h1v1h-1zM811 311h1v1h-1zM743 302h2v1h-2zM828 302h1v1h-1zM484 218h1v1h-1zM931 218h1v1h-1zM897 243h1v1h-1zM486 221h1v1h-1zM928 221h1v1h-1zM846 291h1v1h-1zM509 233h1v1h-1zM903 233h1v1h-1zM483 216h1v1h-1zM933 216h1v1h-1zM756 313h1v1h-1zM810 313h1v1h-1zM896 245h1v1h-1zM315 212h1v1h-1zM317 212h1v1h-1zM481 212h1v1h-1zM937 212h1v1h-1zM485 219h1v1h-1zM930 219h1v1h-1zM733 298h1v1h-1zM832 298h1v1h-1zM897 242h1v1h-1z"/>
<path fill="#408080" d="M550 289h1v4h-1zM538 294h1v3h-1zM549 293h1v4h-1zM548 297h1v4h-1zM551 285h1v4h-1zM215 301h1v1h-1zM230 301h2v1h-2zM453 301h2v1h-2zM541 301h1v1h-1zM547 301h1v1h-1zM885 301h1v1h-1zM895 301h4v1h-4zM220 297h2v1h-2zM223 297h2v1h-2zM459 297h2v1h-2zM539 297h1v1h-1zM857 297h10v1h-10zM198 315h2v1h-2zM312 315h2v1h-2zM321 315h5v1h-5zM339 315h3v1h-3zM416 315h3v1h-3zM924 315h4v1h-4zM946 315h6v1h-6zM161 303h3v1h-3zM214 303h1v1h-1zM234 303h10v1h-10zM247 303h1v1h-1zM448 303h3v1h-3zM887 303h1v1h-1zM892 303h1v1h-1zM902 303h2v1h-2zM167 306h2v1h-2zM212 306h1v1h-1zM251 306h2v1h-2zM259 306h2v1h-2zM443 306h1v1h-1zM907 306h2v1h-2zM569 269h1v1h-1zM573 269h1v1h-1zM605 269h4v1h-4zM612 269h2v1h-2zM623 269h2v1h-2zM635 269h4v1h-4zM642 269h1v1h-1zM667 269h3v1h-3zM673 269h2v1h-2zM678 269h3v1h-3zM691 269h1v1h-1zM716 269h3v1h-3zM729 269h1v1h-1zM196 314h2v1h-2zM200 314h2v1h-2zM304 314h8v1h-8zM419 314h3v1h-3zM922 314h2v1h-2zM928 314h18v1h-18zM171 309h2v1h-2zM181 309h1v1h-1zM211 309h1v1h-1zM263 309h8v1h-8zM438 309h2v1h-2zM914 309h1v1h-1zM480 288h2v1h-2zM523 288h13v1h-13zM798 288h1v1h-1zM810 288h2v1h-2zM822 288h2v1h-2zM464 294h4v1h-4zM851 294h1v1h-1zM373 319h2v1h-2zM404 319h3v1h-3zM958 319h2v1h-2zM647 264h2v1h-2zM722 264h1v1h-1zM726 264h1v1h-1zM151 304h10v1h-10zM164 304h2v1h-2zM213 304h1v1h-1zM248 304h2v1h-2zM256 304h2v1h-2zM446 304h2v1h-2zM888 304h1v1h-1zM890 304h2v1h-2zM904 304h1v1h-1zM501 280h3v1h-3zM513 280h2v1h-2zM554 280h1v1h-1zM755 280h2v1h-2zM787 280h2v1h-2zM790 280h1v1h-1zM504 279h5v1h-5zM512 279h1v1h-1zM555 279h1v1h-1zM751 279h4v1h-4zM789 279h1v1h-1zM617 266h2v1h-2zM629 266h2v1h-2zM645 266h1v1h-1zM652 266h5v1h-5zM694 266h10v1h-10zM720 266h1v1h-1zM727 266h1v1h-1zM174 311h1v1h-1zM177 311h2v1h-2zM184 311h2v1h-2zM208 311h3v1h-3zM273 311h2v1h-2zM432 311h4v1h-4zM917 311h1v1h-1zM175 312h2v1h-2zM186 312h8v1h-8zM204 312h4v1h-4zM275 312h10v1h-10zM297 312h4v1h-4zM426 312h6v1h-6zM918 312h2v1h-2zM567 272h1v1h-1zM577 272h2v1h-2zM599 272h1v1h-1zM687 272h2v1h-2zM733 272h2v1h-2zM316 317h2v1h-2zM332 317h4v1h-4zM344 317h2v1h-2zM350 317h21v1h-21zM410 317h3v1h-3zM955 317h2v1h-2zM570 267h1v1h-1zM615 267h2v1h-2zM619 267h2v1h-2zM627 267h2v1h-2zM631 267h2v1h-2zM644 267h1v1h-1zM657 267h6v1h-6zM693 267h1v1h-1zM704 267h6v1h-6zM719 267h1v1h-1zM728 267h1v1h-1zM476 290h2v1h-2zM536 290h1v1h-1zM800 290h4v1h-4zM807 290h2v1h-2zM828 290h6v1h-6zM838 290h3v1h-3zM482 287h4v1h-4zM522 287h1v1h-1zM796 287h2v1h-2zM812 287h2v1h-2zM821 287h1v1h-1zM568 270h1v1h-1zM574 270h2v1h-2zM602 270h3v1h-3zM609 270h3v1h-3zM639 270h3v1h-3zM670 270h3v1h-3zM681 270h3v1h-3zM690 270h1v1h-1zM730 270h1v1h-1zM375 320h10v1h-10zM391 320h6v1h-6zM401 320h3v1h-3zM960 320h8v1h-8zM976 320h5v1h-5zM194 313h2v1h-2zM202 313h2v1h-2zM285 313h12v1h-12zM301 313h3v1h-3zM422 313h4v1h-4zM920 313h2v1h-2zM478 289h2v1h-2zM535 289h1v1h-1zM799 289h1v1h-1zM809 289h1v1h-1zM824 289h4v1h-4zM834 289h4v1h-4zM486 286h5v1h-5zM521 286h1v1h-1zM771 286h8v1h-8zM795 286h1v1h-1zM814 286h3v1h-3zM819 286h2v1h-2zM558 275h4v1h-4zM565 275h1v1h-1zM582 275h10v1h-10zM595 275h1v1h-1zM740 275h3v1h-3zM215 300h1v1h-1zM228 300h2v1h-2zM455 300h1v1h-1zM540 300h1v1h-1zM871 300h10v1h-10zM884 300h1v1h-1zM218 298h2v1h-2zM225 298h1v1h-1zM458 298h1v1h-1zM539 298h1v1h-1zM867 298h2v1h-2zM646 265h1v1h-1zM649 265h3v1h-3zM721 265h1v1h-1zM727 265h1v1h-1zM971 322h3v1h-3zM985 322h3v1h-3zM991 322h3v1h-3zM214 302h1v1h-1zM232 302h2v1h-2zM244 302h3v1h-3zM451 302h2v1h-2zM541 302h7v1h-7zM886 302h1v1h-1zM893 302h2v1h-2zM899 302h3v1h-3zM462 295h2v1h-2zM852 295h2v1h-2zM557 276h1v1h-1zM562 276h3v1h-3zM592 276h3v1h-3zM743 276h2v1h-2zM569 268h1v1h-1zM571 268h2v1h-2zM614 268h1v1h-1zM621 268h2v1h-2zM625 268h2v1h-2zM633 268h2v1h-2zM643 268h1v1h-1zM663 268h4v1h-4zM675 268h3v1h-3zM692 268h1v1h-1zM710 268h6v1h-6zM719 268h1v1h-1zM729 268h1v1h-1zM169 307h1v1h-1zM212 307h1v1h-1zM261 307h1v1h-1zM441 307h2v1h-2zM909 307h3v1h-3zM491 285h3v1h-3zM519 285h2v1h-2zM769 285h2v1h-2zM779 285h2v1h-2zM794 285h1v1h-1zM817 285h2v1h-2zM314 316h2v1h-2zM318 316h3v1h-3zM326 316h6v1h-6zM336 316h3v1h-3zM342 316h2v1h-2zM413 316h3v1h-3zM952 316h3v1h-3zM499 281h2v1h-2zM515 281h1v1h-1zM553 281h1v1h-1zM757 281h2v1h-2zM786 281h1v1h-1zM791 281h1v1h-1zM385 321h6v1h-6zM397 321h4v1h-4zM968 321h3v1h-3zM974 321h2v1h-2zM981 321h4v1h-4zM994 321h2v1h-2zM468 293h4v1h-4zM537 293h1v1h-1zM849 293h2v1h-2zM173 310h1v1h-1zM179 310h2v1h-2zM182 310h2v1h-2zM210 310h1v1h-1zM271 310h2v1h-2zM436 310h2v1h-2zM915 310h2v1h-2zM497 282h2v1h-2zM516 282h1v1h-1zM553 282h1v1h-1zM759 282h7v1h-7zM784 282h2v1h-2zM791 282h1v1h-1zM166 305h1v1h-1zM213 305h1v1h-1zM250 305h1v1h-1zM253 305h3v1h-3zM258 305h1v1h-1zM444 305h2v1h-2zM889 305h1v1h-1zM905 305h2v1h-2zM566 273h1v1h-1zM579 273h1v1h-1zM598 273h1v1h-1zM735 273h2v1h-2zM346 318h4v1h-4zM371 318h2v1h-2zM407 318h3v1h-3zM957 318h1v1h-1zM170 308h1v1h-1zM211 308h1v1h-1zM262 308h1v1h-1zM440 308h1v1h-1zM912 308h2v1h-2zM496 283h1v1h-1zM517 283h1v1h-1zM552 283h1v1h-1zM766 283h2v1h-2zM783 283h1v1h-1zM792 283h1v1h-1zM565 274h1v1h-1zM580 274h2v1h-2zM596 274h2v1h-2zM737 274h3v1h-3zM567 271h1v1h-1zM576 271h1v1h-1zM600 271h2v1h-2zM684 271h3v1h-3zM689 271h1v1h-1zM731 271h2v1h-2zM494 284h2v1h-2zM518 284h1v1h-1zM552 284h1v1h-1zM768 284h1v1h-1zM781 284h2v1h-2zM793 284h1v1h-1zM988 323h3v1h-3zM474 291h2v1h-2zM536 291h1v1h-1zM804 291h3v1h-3zM841 291h5v1h-5zM556 277h1v1h-1zM745 277h2v1h-2zM472 292h2v1h-2zM537 292h1v1h-1zM846 292h3v1h-3zM722 263h1v1h-1zM725 263h1v1h-1zM509 278h3v1h-3zM556 278h1v1h-1zM747 278h4v1h-4zM216 299h2v1h-2zM226 299h2v1h-2zM456 299h2v1h-2zM540 299h1v1h-1zM869 299h2v1h-2zM881 299h3v1h-3zM724 261h1v1h-1zM222 296h1v1h-1zM461 296h1v1h-1zM854 296h3v1h-3zM723 262h1v1h-1zM725 262h1v1h-1z"/>
<path fill="#FF0080" d="M483 216h1v1h-1zM898 216h1v1h-1zM167 261h1v1h-1zM179 261h1v1h-1zM201 261h1v1h-1zM215 261h1v1h-1zM232 261h2v1h-2zM279 261h2v1h-2zM332 261h1v1h-1zM434 261h2v1h-2zM964 261h2v1h-2zM168 262h1v1h-1zM178 262h1v1h-1zM202 262h2v1h-2zM215 262h1v1h-1zM234 262h10v1h-10zM277 262h2v1h-2zM333 262h1v1h-1zM432 262h2v1h-2zM966 262h1v1h-1zM304 248h14v1h-14zM451 248h1v1h-1zM941 248h2v1h-2zM175 266h1v1h-1zM207 266h1v1h-1zM212 266h1v1h-1zM375 266h2v1h-2zM424 266h2v1h-2zM972 266h1v1h-1zM398 273h9v1h-9zM983 273h2v1h-2zM617 155h19v1h-19zM651 155h6v1h-6zM663 155h4v1h-4zM692 155h12v1h-12zM708 155h3v1h-3zM716 155h6v1h-6zM814 155h3v1h-3zM209 269h1v1h-1zM211 269h1v1h-1zM381 269h4v1h-4zM416 269h3v1h-3zM977 269h1v1h-1zM169 263h2v1h-2zM177 263h1v1h-1zM204 263h1v1h-1zM214 263h1v1h-1zM244 263h5v1h-5zM255 263h22v1h-22zM334 263h10v1h-10zM350 263h21v1h-21zM430 263h2v1h-2zM967 263h2v1h-2zM158 253h2v1h-2zM294 253h2v1h-2zM325 253h1v1h-1zM445 253h1v1h-1zM949 253h2v1h-2zM669 153h2v1h-2zM673 153h2v1h-2zM678 153h3v1h-3zM684 153h3v1h-3zM725 153h1v1h-1zM810 153h2v1h-2zM166 259h1v1h-1zM180 259h1v1h-1zM198 259h1v1h-1zM217 259h1v1h-1zM228 259h2v1h-2zM282 259h2v1h-2zM331 259h1v1h-1zM439 259h2v1h-2zM960 259h2v1h-2zM156 252h2v1h-2zM296 252h1v1h-1zM324 252h1v1h-1zM446 252h1v1h-1zM948 252h1v1h-1zM541 178h12v1h-12zM852 178h1v1h-1zM729 149h1v1h-1zM739 149h2v1h-2zM743 149h3v1h-3zM805 149h1v1h-1zM475 225h1v1h-1zM905 225h1v1h-1zM459 239h1v1h-1zM920 239h3v1h-3zM160 254h1v1h-1zM292 254h2v1h-2zM326 254h1v1h-1zM444 254h1v1h-1zM951 254h1v1h-1zM464 234h1v1h-1zM914 234h1v1h-1zM210 270h1v1h-1zM385 270h6v1h-6zM413 270h3v1h-3zM978 270h2v1h-2zM163 256h1v1h-1zM184 256h2v1h-2zM193 256h2v1h-2zM221 256h1v1h-1zM223 256h2v1h-2zM287 256h2v1h-2zM328 256h1v1h-1zM443 256h1v1h-1zM954 256h2v1h-2zM560 172h2v1h-2zM844 172h2v1h-2zM468 231h2v1h-2zM910 231h2v1h-2zM161 255h2v1h-2zM186 255h7v1h-7zM222 255h1v1h-1zM289 255h3v1h-3zM327 255h1v1h-1zM443 255h1v1h-1zM952 255h2v1h-2zM171 264h2v1h-2zM176 264h1v1h-1zM205 264h1v1h-1zM214 264h1v1h-1zM249 264h6v1h-6zM344 264h6v1h-6zM371 264h2v1h-2zM428 264h2v1h-2zM969 264h1v1h-1zM153 251h3v1h-3zM297 251h2v1h-2zM323 251h1v1h-1zM447 251h1v1h-1zM946 251h2v1h-2zM391 271h4v1h-4zM410 271h3v1h-3zM980 271h1v1h-1zM558 173h2v1h-2zM846 173h2v1h-2zM452 247h1v1h-1zM938 247h3v1h-3zM566 169h2v1h-2zM838 169h2v1h-2zM987 275h2v1h-2zM151 250h2v1h-2zM299 250h2v1h-2zM321 250h2v1h-2zM448 250h2v1h-2zM945 250h1v1h-1zM471 229h1v1h-1zM908 229h2v1h-2zM514 194h1v1h-1zM875 194h2v1h-2zM755 145h3v1h-3zM800 145h1v1h-1zM509 197h2v1h-2zM879 197h2v1h-2zM173 265h2v1h-2zM176 265h1v1h-1zM206 265h1v1h-1zM213 265h1v1h-1zM373 265h2v1h-2zM426 265h2v1h-2zM970 265h2v1h-2zM166 260h1v1h-1zM179 260h1v1h-1zM199 260h2v1h-2zM216 260h1v1h-1zM230 260h2v1h-2zM281 260h1v1h-1zM331 260h1v1h-1zM436 260h3v1h-3zM962 260h2v1h-2zM572 166h3v1h-3zM592 166h6v1h-6zM830 166h2v1h-2zM458 240h1v1h-1zM923 240h3v1h-3zM518 191h1v1h-1zM871 191h1v1h-1zM503 202h1v1h-1zM885 202h1v1h-1zM208 268h1v1h-1zM211 268h1v1h-1zM379 268h2v1h-2zM419 268h3v1h-3zM975 268h2v1h-2zM792 139h3v1h-3zM562 171h2v1h-2zM842 171h2v1h-2zM570 167h2v1h-2zM832 167h3v1h-3zM506 199h2v1h-2zM882 199h1v1h-1zM616 156h1v1h-1zM636 156h2v1h-2zM647 156h4v1h-4zM657 156h6v1h-6zM704 156h4v1h-4zM817 156h2v1h-2zM462 236h1v1h-1zM916 236h1v1h-1zM568 168h2v1h-2zM835 168h3v1h-3zM500 204h1v1h-1zM886 204h1v1h-1zM460 238h1v1h-1zM918 238h2v1h-2zM472 228h1v1h-1zM907 228h2v1h-2zM733 147h4v1h-4zM749 147h3v1h-3zM802 147h2v1h-2zM497 205h3v1h-3zM887 205h1v1h-1zM536 181h2v1h-2zM855 181h1v1h-1zM575 165h17v1h-17zM598 165h4v1h-4zM829 165h1v1h-1zM782 142h3v1h-3zM797 142h1v1h-1zM667 154h2v1h-2zM675 154h3v1h-3zM687 154h5v1h-5zM711 154h5v1h-5zM722 154h3v1h-3zM812 154h2v1h-2zM730 148h3v1h-3zM737 148h2v1h-2zM746 148h3v1h-3zM804 148h1v1h-1zM164 257h1v1h-1zM182 257h2v1h-2zM195 257h1v1h-1zM220 257h1v1h-1zM225 257h1v1h-1zM285 257h2v1h-2zM329 257h1v1h-1zM442 257h1v1h-1zM956 257h2v1h-2zM490 208h2v1h-2zM890 208h1v1h-1zM456 242h1v1h-1zM928 242h2v1h-2zM455 243h1v1h-1zM930 243h2v1h-2zM525 185h3v1h-3zM858 185h1v1h-1zM758 144h21v1h-21zM799 144h1v1h-1zM480 220h1v1h-1zM901 220h1v1h-1zM493 206h4v1h-4zM888 206h1v1h-1zM613 158h1v1h-1zM639 158h2v1h-2zM643 158h2v1h-2zM820 158h2v1h-2zM487 211h1v1h-1zM894 211h1v1h-1zM539 179h2v1h-2zM853 179h1v1h-1zM501 203h2v1h-2zM886 203h1v1h-1zM523 186h2v1h-2zM859 186h2v1h-2zM604 163h2v1h-2zM826 163h2v1h-2zM531 183h3v1h-3zM856 183h1v1h-1zM457 241h1v1h-1zM926 241h2v1h-2zM479 221h1v1h-1zM902 221h1v1h-1zM463 235h1v1h-1zM915 235h1v1h-1zM165 258h1v1h-1zM181 258h1v1h-1zM196 258h2v1h-2zM218 258h2v1h-2zM226 258h2v1h-2zM284 258h1v1h-1zM330 258h1v1h-1zM441 258h1v1h-1zM958 258h2v1h-2zM522 187h1v1h-1zM861 187h3v1h-3zM752 146h3v1h-3zM801 146h1v1h-1zM395 272h3v1h-3zM407 272h3v1h-3zM981 272h2v1h-2zM788 140h4v1h-4zM795 140h1v1h-1zM207 267h1v1h-1zM212 267h1v1h-1zM377 267h2v1h-2zM422 267h2v1h-2zM973 267h2v1h-2zM528 184h3v1h-3zM857 184h1v1h-1zM476 224h1v1h-1zM904 224h1v1h-1zM520 189h1v1h-1zM867 189h2v1h-2zM301 249h3v1h-3zM318 249h3v1h-3zM450 249h1v1h-1zM943 249h2v1h-2zM521 188h1v1h-1zM864 188h3v1h-3zM564 170h2v1h-2zM840 170h2v1h-2zM512 195h2v1h-2zM877 195h1v1h-1zM556 175h1v1h-1zM849 175h1v1h-1zM671 152h2v1h-2zM681 152h3v1h-3zM726 152h1v1h-1zM809 152h1v1h-1zM727 151h1v1h-1zM807 151h2v1h-2zM489 209h1v1h-1zM891 209h2v1h-2zM519 190h1v1h-1zM869 190h2v1h-2zM993 279h2v1h-2zM612 159h1v1h-1zM641 159h2v1h-2zM822 159h1v1h-1zM488 210h1v1h-1zM893 210h1v1h-1zM474 226h1v1h-1zM906 226h1v1h-1zM505 200h1v1h-1zM883 200h1v1h-1zM614 157h2v1h-2zM638 157h1v1h-1zM645 157h2v1h-2zM819 157h1v1h-1zM517 192h1v1h-1zM872 192h2v1h-2zM989 276h1v1h-1zM486 213h1v1h-1zM896 213h1v1h-1zM534 182h2v1h-2zM856 182h1v1h-1zM481 219h1v1h-1zM900 219h1v1h-1zM985 274h2v1h-2zM779 143h3v1h-3zM798 143h1v1h-1zM478 222h1v1h-1zM903 222h1v1h-1zM608 161h2v1h-2zM824 161h1v1h-1zM602 164h2v1h-2zM828 164h1v1h-1zM785 141h3v1h-3zM796 141h1v1h-1zM470 230h1v1h-1zM909 230h2v1h-2zM455 244h1v1h-1zM932 244h2v1h-2zM453 246h1v1h-1zM936 246h2v1h-2zM511 196h1v1h-1zM878 196h1v1h-1zM554 176h2v1h-2zM850 176h1v1h-1zM728 150h1v1h-1zM741 150h2v1h-2zM806 150h1v1h-1zM461 237h1v1h-1zM917 237h1v1h-1zM454 245h1v1h-1zM934 245h2v1h-2zM538 180h1v1h-1zM854 180h1v1h-1zM465 233h2v1h-2zM913 233h1v1h-1zM484 215h1v1h-1zM897 215h1v1h-1zM515 193h2v1h-2zM874 193h1v1h-1zM486 212h1v1h-1zM895 212h1v1h-1zM610 160h2v1h-2zM823 160h1v1h-1zM995 280h1v1h-1zM483 217h1v1h-1zM899 217h1v1h-1zM467 232h1v1h-1zM912 232h1v1h-1zM606 162h2v1h-2zM825 162h1v1h-1zM477 223h1v1h-1zM904 223h1v1h-1zM990 277h2v1h-2zM553 177h1v1h-1zM851 177h1v1h-1zM492 207h1v1h-1zM889 207h1v1h-1zM485 214h1v1h-1zM896 214h1v1h-1zM557 174h1v1h-1zM848 174h1v1h-1zM508 198h1v1h-1zM881 198h1v1h-1zM473 227h1v1h-1zM907 227h1v1h-1zM482 218h1v1h-1zM899 218h1v1h-1zM504 201h1v1h-1zM884 201h1v1h-1zM992 278h1v1h-1z"/>
<path fill="#0000A0" d="M803 471h1v3h-1zM211 594h1v6h-1zM595 440h1v4h-1zM223 570h1v6h-1zM761 468h1v8h-1zM861 561h1v7h-1zM416 555h1v3h-1zM610 456h1v4h-1zM436 534h1v3h-1zM628 474h1v3h-1zM734 492h1v4h-1zM417 557h1v3h-1zM483 500h1v4h-1zM598 453h1v4h-1zM869 574h1v4h-1zM230 588h1v6h-1zM868 578h1v5h-1zM315 540h1v7h-1zM422 527h1v6h-1zM750 468h1v8h-1zM791 472h1v4h-1zM851 523h1v5h-1zM486 510h1v4h-1zM401 588h1v6h-1zM311 510h1v8h-1zM834 553h1v6h-1zM343 582h1v6h-1zM502 490h1v8h-1zM857 536h1v6h-1zM494 488h1v4h-1zM723 494h1v8h-1zM809 499h1v8h-1zM835 559h1v6h-1zM747 445h1v5h-1zM858 542h1v6h-1zM377 581h1v3h-1zM356 560h1v3h-1zM730 475h1v4h-1zM741 486h1v4h-1zM404 570h1v6h-1zM670 461h1v4h-1zM589 470h1v8h-1zM280 543h1v3h-1zM722 502h1v9h-1zM237 578h1v5h-1zM314 532h1v8h-1zM642 481h1v6h-1zM325 549h1v3h-1zM760 476h1v9h-1zM831 535h1v6h-1zM536 502h1v3h-1zM582 470h1v3h-1zM240 591h1v3h-1zM689 449h1v6h-1zM548 477h1v3h-1zM627 477h1v3h-1zM854 518h1v6h-1zM820 524h1v7h-1zM424 527h1v5h-1zM498 474h1v4h-1zM812 521h1v5h-1zM435 537h1v3h-1zM824 498h1v4h-1zM608 463h1v4h-1zM225 582h1v6h-1zM303 501h1v5h-1zM674 444h1v4h-1zM653 471h1v3h-1zM673 448h1v5h-1zM295 534h1v3h-1zM850 528h1v6h-1zM816 534h1v3h-1zM879 590h1v3h-1zM275 558h1v5h-1zM213 582h1v6h-1zM752 485h1v9h-1zM616 481h1v6h-1zM657 482h1v3h-1zM439 526h1v3h-1zM504 505h1v7h-1zM578 452h1v5h-1zM470 513h1v3h-1zM342 588h1v6h-1zM419 545h1v6h-1zM365 571h1v7h-1zM860 554h1v7h-1zM643 475h1v6h-1zM232 576h1v6h-1zM347 563h1v3h-1zM830 530h1v5h-1zM338 592h1v4h-1zM412 543h1v3h-1zM695 484h1v6h-1zM853 515h1v3h-1zM299 522h1v4h-1zM403 576h1v6h-1zM765 437h1v5h-1zM415 552h1v3h-1zM641 487h1v3h-1zM721 511h1v9h-1zM713 509h1v6h-1zM733 488h1v4h-1zM819 531h1v7h-1zM497 478h1v3h-1zM725 484h1v4h-1zM466 490h1v6h-1zM646 457h1v6h-1zM698 501h1v6h-1zM759 485h1v5h-1zM542 484h1v4h-1zM823 502h1v7h-1zM841 552h1v3h-1zM310 506h1v4h-1zM719 528h1v9h-1zM833 547h1v6h-1zM672 453h1v4h-1zM826 507h1v6h-1zM691 461h1v6h-1zM863 576h1v7h-1zM692 467h1v6h-1zM227 594h1v6h-1zM302 506h1v5h-1zM354 555h1v3h-1zM270 592h1v7h-1zM808 492h1v7h-1zM867 583h1v4h-1zM274 563h1v7h-1zM635 463h1v3h-1zM849 534h1v5h-1zM335 579h1v4h-1zM637 470h1v4h-1zM771 470h1v3h-1zM574 452h1v5h-1zM341 594h1v6h-1zM611 454h1v3h-1zM852 518h1v5h-1zM373 583h1v4h-1zM346 566h1v4h-1zM581 466h1v4h-1zM667 472h1v4h-1zM593 441h1v7h-1zM793 465h1v4h-1zM697 496h1v5h-1zM224 576h1v6h-1zM870 570h1v4h-1zM371 592h1v4h-1zM500 476h1v7h-1zM231 582h1v6h-1zM402 582h1v6h-1zM489 506h1v4h-1zM649 459h1v3h-1zM874 575h1v3h-1zM767 446h1v6h-1zM599 457h1v4h-1zM807 485h1v7h-1zM724 488h1v6h-1zM744 464h1v7h-1zM817 537h1v3h-1zM840 555h1v3h-1zM592 448h1v8h-1zM818 538h1v4h-1zM715 521h1v6h-1zM645 463h1v6h-1zM751 476h1v9h-1zM301 511h1v6h-1zM763 450h1v9h-1zM312 518h1v7h-1zM865 590h1v4h-1zM748 450h1v9h-1zM364 567h1v4h-1zM376 578h1v3h-1zM503 498h1v7h-1zM810 507h1v7h-1zM829 524h1v6h-1zM694 479h1v5h-1zM821 516h1v8h-1zM357 563h1v3h-1zM273 570h1v7h-1zM728 474h1v4h-1zM411 541h1v3h-1zM438 529h1v3h-1zM216 567h1v3h-1zM545 474h1v4h-1zM272 577h1v8h-1zM675 440h1v4h-1zM640 483h1v4h-1zM614 469h1v6h-1zM465 484h1v6h-1zM368 592h1v7h-1zM862 568h1v8h-1zM277 552h1v3h-1zM330 564h1v3h-1zM856 530h1v6h-1zM229 594h1v6h-1zM700 513h1v3h-1zM591 456h1v7h-1zM717 533h1v6h-1zM770 464h1v6h-1zM762 459h1v9h-1zM718 537h1v5h-1zM636 466h1v4h-1zM753 494h1v5h-1zM235 570h1v4h-1zM727 478h1v3h-1zM696 490h1v6h-1zM499 472h1v4h-1zM572 461h1v5h-1zM544 478h1v3h-1zM271 585h1v7h-1zM624 485h1v3h-1zM864 583h1v7h-1zM576 445h1v3h-1zM590 463h1v7h-1zM336 583h1v4h-1zM300 517h1v5h-1zM464 481h1v3h-1zM551 485h1v3h-1zM214 576h1v6h-1zM654 474h1v3h-1zM566 482h1v3h-1zM594 437h1v4h-1zM366 578h1v7h-1zM749 459h1v9h-1zM805 477h1v3h-1zM597 448h1v5h-1zM811 514h1v7h-1zM279 546h1v3h-1zM485 507h1v3h-1zM408 552h1v5h-1zM827 513h1v5h-1zM427 543h1v5h-1zM837 563h1v3h-1zM729 472h1v3h-1zM379 586h1v3h-1zM380 589h1v3h-1zM565 485h1v3h-1zM638 474h1v5h-1zM745 456h1v8h-1zM612 457h1v6h-1zM550 482h1v3h-1zM814 529h1v3h-1zM832 541h1v6h-1zM501 483h1v7h-1zM600 461h1v3h-1zM822 509h1v7h-1zM881 595h1v3h-1zM577 448h1v4h-1zM469 507h1v6h-1zM313 525h1v7h-1zM848 539h1v3h-1zM859 548h1v6h-1zM414 549h1v3h-1zM804 474h1v3h-1zM345 570h1v6h-1zM735 496h1v3h-1zM484 504h1v3h-1zM743 471h1v7h-1zM333 572h1v3h-1zM441 520h1v3h-1zM406 561h1v4h-1zM644 469h1v6h-1zM238 583h1v4h-1zM410 544h1v4h-1zM215 570h1v6h-1zM813 526h1v3h-1zM690 455h1v6h-1zM876 581h1v3h-1zM344 576h1v6h-1zM400 594h1v6h-1zM742 478h1v8h-1zM405 565h1v5h-1zM746 449h1v7h-1zM428 548h1v3h-1zM579 457h1v4h-1zM348 560h1v3h-1zM413 546h1v3h-1zM639 479h1v4h-1zM339 596h1v4h-1zM409 548h1v4h-1zM714 515h1v6h-1zM571 466h1v4h-1zM460 491h1v3h-1zM332 569h1v3h-1zM420 539h1v6h-1zM236 574h1v4h-1zM802 468h1v3h-1zM871 567h1v3h-1zM764 442h1v8h-1zM298 526h1v3h-1zM720 520h1v8h-1zM875 578h1v3h-1zM768 452h1v6h-1zM615 475h1v6h-1zM716 527h1v6h-1zM790 476h1v4h-1zM866 587h1v4h-1zM372 587h1v5h-1zM712 506h1v3h-1zM732 483h1v5h-1zM324 546h1v3h-1zM239 587h1v4h-1zM423 524h1v3h-1zM316 547h1v4h-1zM327 555h1v3h-1zM488 510h1v4h-1zM569 474h1v3h-1zM212 588h1v6h-1zM580 461h1v5h-1zM537 499h1v3h-1zM496 481h1v4h-1zM625 482h1v3h-1zM541 488h1v3h-1zM693 473h1v6h-1zM353 552h1v3h-1zM568 477h1v3h-1zM375 576h1v3h-1zM491 499h1v4h-1zM367 585h1v7h-1zM792 469h1v3h-1zM855 524h1v6h-1zM370 596h1v4h-1zM425 532h1v6h-1zM651 465h1v3h-1zM825 501h1v6h-1zM226 588h1v6h-1zM769 458h1v6h-1zM421 533h1v6h-1zM575 448h1v4h-1zM655 477h1v3h-1zM374 579h1v4h-1zM440 523h1v3h-1zM467 496h1v5h-1zM444 511h1v3h-1zM276 555h1v3h-1zM233 570h1v6h-1zM547 474h1v3h-1zM726 481h1v3h-1zM543 481h1v3h-1zM650 462h1v3h-1zM443 514h1v3h-1zM351 552h1v3h-1zM493 492h1v3h-1zM269 599h1v3h-1zM836 565h1v3h-1zM801 465h1v3h-1zM573 457h1v4h-1zM588 478h1v4h-1zM607 467h1v4h-1zM442 517h1v3h-1zM334 575h1v4h-1zM418 551h1v6h-1zM676 437h1v3h-1zM873 572h1v3h-1zM877 584h1v3h-1zM468 501h1v6h-1zM828 518h1v6h-1zM766 440h1v6h-1zM613 463h1v6h-1zM329 561h1v3h-1zM699 507h1v6h-1zM540 491h1v3h-1zM505 512h1v4h-1zM222 567h1v3h-1zM872 569h1v3h-1zM806 480h1v5h-1zM609 460h1v3h-1zM304 498h1v3h-1zM459 494h1v3h-1zM369 599h1v3h-1zM539 494h1v3h-1zM669 465h1v4h-1zM328 558h1v3h-1zM407 557h1v4h-1zM294 537h1v3h-1zM688 445h1v4h-1zM426 538h1v5h-1zM337 587h1v5h-1zM323 543h1v3h-1zM648 456h1v3h-1zM652 468h1v3h-1zM671 457h1v4h-1zM617 487h1v3h-1zM490 503h1v3h-1zM666 476h1v4h-1zM838 560h1v3h-1zM647 454h1v3h-1zM570 470h1v4h-1zM878 587h1v3h-1zM882 598h1v3h-1zM463 483h1v3h-1zM350 555h1v3h-1zM492 495h1v4h-1zM596 444h1v4h-1zM668 469h1v3h-1zM278 549h1v3h-1zM462 486h1v3h-1zM731 479h1v4h-1zM326 552h1v3h-1zM445 508h1v3h-1zM297 529h1v3h-1zM495 485h1v3h-1zM234 567h1v3h-1zM658 485h1v3h-1zM677 437h6v1h-6zM553 491h1v1h-1zM563 491h1v1h-1zM740 491h1v1h-1zM758 491h1v1h-1zM296 533h1v1h-1zM437 533h1v1h-1zM815 533h1v1h-1zM199 600h1v1h-1zM209 600h2v1h-2zM228 600h1v1h-1zM244 600h1v1h-1zM340 600h1v1h-1zM386 600h1v1h-1zM399 600h1v1h-1zM446 506h1v1h-1zM476 506h1v1h-1zM511 506h25v1h-25zM706 506h6v1h-6zM605 470h1v1h-1zM630 470h1v1h-1zM217 567h5v1h-5zM331 567h1v1h-1zM358 567h6v1h-6zM285 547h1v1h-1zM289 547h1v1h-1zM318 547h1v1h-1zM430 547h1v1h-1zM844 547h1v1h-1zM286 548h1v1h-1zM288 548h1v1h-1zM317 548h1v1h-1zM429 548h1v1h-1zM843 548h1v1h-1zM305 499h1v1h-1zM451 499h1v1h-1zM481 499h2v1h-2zM557 496h1v1h-1zM559 496h1v1h-1zM736 496h1v1h-1zM754 496h1v1h-1zM286 549h1v1h-1zM288 549h1v1h-1zM317 549h1v1h-1zM429 549h1v1h-1zM843 549h1v1h-1zM200 599h1v1h-1zM208 599h1v1h-1zM243 599h1v1h-1zM385 599h1v1h-1zM331 568h1v1h-1zM281 541h1v1h-1zM293 541h1v1h-1zM322 541h1v1h-1zM434 541h1v1h-1zM474 509h1v1h-1zM509 509h1v1h-1zM704 509h1v1h-1zM684 440h1v1h-1zM549 480h1v1h-1zM567 480h1v1h-1zM587 480h1v1h-1zM626 480h1v1h-1zM656 480h1v1h-1zM665 480h1v1h-1zM782 480h1v1h-1zM789 480h1v1h-1zM309 505h1v1h-1zM447 505h1v1h-1zM477 505h1v1h-1zM535 505h1v1h-1zM458 497h1v1h-1zM538 497h1v1h-1zM557 497h1v1h-1zM559 497h1v1h-1zM736 497h1v1h-1zM754 497h1v1h-1zM452 498h7v1h-7zM482 498h1v1h-1zM538 498h1v1h-1zM558 498h1v1h-1zM204 593h1v1h-1zM381 593h1v1h-1zM880 593h1v1h-1zM296 532h1v1h-1zM437 532h1v1h-1zM815 532h1v1h-1zM201 597h1v1h-1zM207 597h1v1h-1zM242 597h1v1h-1zM384 597h1v1h-1zM461 489h1v1h-1zM552 489h1v1h-1zM564 489h1v1h-1zM618 489h6v1h-6zM659 489h1v1h-1zM686 442h1v1h-1zM601 464h1v1h-1zM634 464h1v1h-1zM794 464h1v1h-1zM800 464h1v1h-1zM203 595h1v1h-1zM205 595h1v1h-1zM241 595h1v1h-1zM382 595h1v1h-1zM555 494h1v1h-1zM561 494h1v1h-1zM738 494h1v1h-1zM756 494h1v1h-1zM549 481h1v1h-1zM567 481h1v1h-1zM626 481h1v1h-1zM656 481h1v1h-1zM665 481h1v1h-1zM783 481h7v1h-7zM283 544h1v1h-1zM291 544h1v1h-1zM320 544h1v1h-1zM432 544h1v1h-1zM846 544h1v1h-1zM352 551h1v1h-1zM842 551h1v1h-1zM281 542h2v1h-2zM292 542h1v1h-1zM321 542h2v1h-2zM433 542h1v1h-1zM847 542h1v1h-1zM284 546h1v1h-1zM290 546h1v1h-1zM319 546h1v1h-1zM431 546h1v1h-1zM845 546h1v1h-1zM201 598h1v1h-1zM207 598h1v1h-1zM243 598h1v1h-1zM384 598h1v1h-1zM307 502h1v1h-1zM449 502h1v1h-1zM479 502h1v1h-1zM604 469h1v1h-1zM631 469h1v1h-1zM308 504h1v1h-1zM447 504h1v1h-1zM477 504h1v1h-1zM473 510h1v1h-1zM508 510h1v1h-1zM703 510h1v1h-1zM605 471h2v1h-2zM630 471h1v1h-1zM202 596h1v1h-1zM206 596h1v1h-1zM242 596h1v1h-1zM383 596h1v1h-1zM461 490h1v1h-1zM553 490h1v1h-1zM563 490h1v1h-1zM740 490h1v1h-1zM758 490h1v1h-1zM664 482h1v1h-1zM552 488h1v1h-1zM564 488h1v1h-1zM623 488h1v1h-1zM659 488h2v1h-2zM794 463h7v1h-7zM203 594h1v1h-1zM205 594h1v1h-1zM241 594h1v1h-1zM382 594h1v1h-1zM880 594h1v1h-1zM546 473h1v1h-1zM583 473h1v1h-1zM629 473h1v1h-1zM778 473h1v1h-1zM199 601h1v1h-1zM209 601h2v1h-2zM228 601h1v1h-1zM244 601h1v1h-1zM340 601h1v1h-1zM386 601h1v1h-1zM399 601h1v1h-1zM883 601h1v1h-1zM287 550h1v1h-1zM352 550h1v1h-1zM842 550h1v1h-1zM663 484h1v1h-1zM349 558h1v1h-1zM355 558h1v1h-1zM839 558h1v1h-1zM683 439h1v1h-1zM546 472h1v1h-1zM606 472h1v1h-1zM629 472h1v1h-1zM772 472h6v1h-6zM308 503h1v1h-1zM448 503h1v1h-1zM478 503h1v1h-1zM584 475h1v1h-1zM779 475h1v1h-1zM585 476h1v1h-1zM780 476h1v1h-1zM554 492h1v1h-1zM562 492h1v1h-1zM739 492h1v1h-1zM757 492h1v1h-1zM473 511h1v1h-1zM508 511h1v1h-1zM703 511h1v1h-1zM663 483h1v1h-1zM603 468h1v1h-1zM632 468h1v1h-1zM683 438h1v1h-1zM686 443h1v1h-1zM687 444h1v1h-1zM305 500h1v1h-1zM450 500h1v1h-1zM480 500h1v1h-1zM282 543h1v1h-1zM292 543h1v1h-1zM321 543h1v1h-1zM433 543h1v1h-1zM847 543h1v1h-1zM381 592h1v1h-1zM555 493h1v1h-1zM561 493h1v1h-1zM738 493h1v1h-1zM756 493h1v1h-1zM601 465h1v1h-1zM634 465h1v1h-1zM602 466h1v1h-1zM633 466h1v1h-1zM685 441h1v1h-1zM358 566h1v1h-1zM603 467h1v1h-1zM632 467h1v1h-1zM472 512h1v1h-1zM507 512h1v1h-1zM702 512h1v1h-1zM349 559h1v1h-1zM355 559h1v1h-1zM839 559h1v1h-1zM471 514h1v1h-1zM487 514h1v1h-1zM506 514h1v1h-1zM701 514h1v1h-1zM583 474h1v1h-1zM778 474h1v1h-1zM378 584h1v1h-1zM585 477h1v1h-1zM780 477h1v1h-1zM293 540h1v1h-1zM434 540h1v1h-1zM660 487h1v1h-1zM471 513h1v1h-1zM506 513h1v1h-1zM701 513h1v1h-1zM587 479h1v1h-1zM782 479h1v1h-1zM306 501h1v1h-1zM450 501h1v1h-1zM480 501h1v1h-1zM446 507h1v1h-1zM475 507h1v1h-1zM510 507h1v1h-1zM705 507h1v1h-1zM556 495h1v1h-1zM560 495h1v1h-1zM737 495h1v1h-1zM755 495h1v1h-1zM661 486h1v1h-1zM586 478h1v1h-1zM781 478h1v1h-1zM284 545h1v1h-1zM290 545h1v1h-1zM319 545h1v1h-1zM431 545h1v1h-1zM845 545h1v1h-1zM487 515h1v1h-1zM378 585h1v1h-1zM475 508h1v1h-1zM510 508h1v1h-1zM705 508h1v1h-1zM662 485h1v1h-1z"/>
<path fill="#FF8040" d="M574 384h1v8h-1zM731 482h1v8h-1zM718 509h1v12h-1zM709 452h1v18h-1zM720 464h1v23h-1zM659 459h1v7h-1zM619 388h1v5h-1zM524 417h1v3h-1zM705 415h1v19h-1zM725 394h1v17h-1zM536 389h1v6h-1zM642 408h1v9h-1zM742 491h1v8h-1zM581 401h1v6h-1zM694 416h1v12h-1zM606 345h1v3h-1zM546 441h1v5h-1zM665 392h1v7h-1zM605 348h1v5h-1zM656 427h1v11h-1zM573 392h1v7h-1zM677 477h1v17h-1zM597 381h1v3h-1zM791 475h1v6h-1zM697 461h1v16h-1zM480 466h1v5h-1zM728 445h1v17h-1zM631 377h1v13h-1zM653 397h1v8h-1zM706 405h1v10h-1zM612 361h1v7h-1zM550 425h1v6h-1zM542 422h1v5h-1zM511 433h1v5h-1zM577 377h1v6h-1zM658 449h1v11h-1zM730 474h1v8h-1zM678 460h1v17h-1zM746 457h1v8h-1zM584 396h1v5h-1zM711 489h1v18h-1zM475 488h1v3h-1zM615 383h1v7h-1zM696 444h1v17h-1zM688 373h1v4h-1zM618 393h1v5h-1zM630 364h1v13h-1zM800 546h1v6h-1zM523 419h1v3h-1zM650 381h1v5h-1zM741 499h1v6h-1zM686 380h1v5h-1zM699 494h1v16h-1zM664 399h1v12h-1zM495 444h1v3h-1zM704 434h1v19h-1zM633 402h1v13h-1zM673 444h1v17h-1zM450 558h1v3h-1zM733 497h1v8h-1zM645 381h1v9h-1zM797 517h1v10h-1zM708 433h1v19h-1zM724 385h1v12h-1zM676 494h1v9h-1zM671 411h1v17h-1zM663 411h1v12h-1zM727 428h1v17h-1zM648 370h1v6h-1zM527 408h1v3h-1zM698 477h1v17h-1zM454 539h1v6h-1zM535 386h1v3h-1zM522 414h1v5h-1zM749 458h1v3h-1zM534 388h1v3h-1zM693 408h1v8h-1zM544 432h1v4h-1zM537 395h1v5h-1zM682 398h1v11h-1zM712 507h1v10h-1zM732 490h1v7h-1zM703 453h1v18h-1zM796 508h1v9h-1zM662 423h1v12h-1zM745 465h1v9h-1zM583 401h1v6h-1zM675 478h1v16h-1zM552 412h1v6h-1zM710 470h1v19h-1zM670 402h1v9h-1zM690 385h1v8h-1zM790 470h1v5h-1zM681 409h1v17h-1zM518 392h1v6h-1zM611 356h1v5h-1zM652 392h1v5h-1zM557 384h1v6h-1zM661 435h1v12h-1zM702 471h1v19h-1zM571 406h1v8h-1zM644 390h1v9h-1zM744 474h1v8h-1zM735 513h1v4h-1zM729 462h1v12h-1zM722 419h1v23h-1zM541 417h1v5h-1zM478 475h1v5h-1zM680 426h1v17h-1zM743 482h1v9h-1zM701 490h1v19h-1zM774 476h1v3h-1zM526 411h1v3h-1zM632 390h1v12h-1zM515 401h1v8h-1zM614 375h1v8h-1zM629 357h1v7h-1zM655 416h1v11h-1zM533 391h1v3h-1zM707 415h1v18h-1zM723 397h1v22h-1zM453 545h1v6h-1zM514 409h1v8h-1zM672 428h1v16h-1zM547 445h1v4h-1zM551 418h1v7h-1zM726 411h1v17h-1zM695 428h1v16h-1zM564 393h1v3h-1zM679 443h1v17h-1zM719 487h1v22h-1zM657 438h1v11h-1zM613 368h1v7h-1zM721 442h1v22h-1zM520 403h1v5h-1zM654 405h1v11h-1zM647 367h1v5h-1zM575 377h1v7h-1zM521 408h1v6h-1zM635 428h1v7h-1zM620 382h1v6h-1zM799 536h1v10h-1zM795 498h1v10h-1zM579 389h1v6h-1zM689 377h1v8h-1zM616 390h1v7h-1zM513 417h1v8h-1zM641 417h1v6h-1zM685 385h1v4h-1zM517 389h1v4h-1zM634 415h1v13h-1zM734 505h1v8h-1zM700 509h1v10h-1zM798 527h1v9h-1zM529 402h1v3h-1zM555 395h1v6h-1zM660 447h1v12h-1zM692 400h1v8h-1zM602 363h1v5h-1zM549 431h1v7h-1zM569 412h1v4h-1zM674 461h1v17h-1zM750 461h1v3h-1zM516 393h1v8h-1zM456 528h1v5h-1zM646 372h1v9h-1zM548 438h1v7h-1zM558 381h1v3h-1zM604 353h1v5h-1zM793 486h1v5h-1zM568 408h1v4h-1zM794 491h1v7h-1zM683 394h1v4h-1zM580 395h1v6h-1zM600 373h1v4h-1zM473 495h1v3h-1zM687 376h1v4h-1zM494 447h1v3h-1zM470 505h1v3h-1zM498 436h1v3h-1zM651 386h1v6h-1zM458 520h1v3h-1zM582 407h1v3h-1zM556 390h1v5h-1zM567 404h1v4h-1zM643 399h1v9h-1zM497 439h1v3h-1zM482 459h1v3h-1zM789 467h1v3h-1zM452 551h1v5h-1zM586 385h1v6h-1zM801 552h1v3h-1zM472 498h1v3h-1zM565 396h1v4h-1zM512 425h1v8h-1zM545 436h1v5h-1zM623 368h1v4h-1zM553 406h1v6h-1zM538 400h1v6h-1zM588 377h1v3h-1zM525 414h1v3h-1zM540 411h1v6h-1zM621 377h1v5h-1zM751 464h1v4h-1zM528 405h1v3h-1zM578 383h1v6h-1zM691 393h1v7h-1zM554 401h1v5h-1zM531 396h1v3h-1zM608 349h1v3h-1zM519 398h1v5h-1zM572 399h1v7h-1zM603 358h1v5h-1zM748 454h1v4h-1zM617 397h1v4h-1zM457 523h1v5h-1zM570 414h1v4h-1zM481 462h1v4h-1zM792 481h1v5h-1zM684 389h1v5h-1zM601 368h1v5h-1zM471 501h1v4h-1zM455 533h1v6h-1zM649 376h1v5h-1zM622 372h1v5h-1zM479 471h1v4h-1zM474 491h1v4h-1zM530 399h1v3h-1zM587 380h1v5h-1zM543 427h1v5h-1zM477 480h1v4h-1zM539 406h1v5h-1zM566 400h1v4h-1zM747 452h1v5h-1zM585 391h1v5h-1zM476 484h1v4h-1zM803 557h1v3h-1zM576 373h1v4h-1zM752 468h1v3h-1zM448 563h1v3h-1zM392 598h3v1h-3zM859 598h2v1h-2zM753 471h1v1h-1zM777 471h1v1h-1zM459 520h3v1h-3zM401 594h2v1h-2zM853 594h1v1h-1zM757 477h1v1h-1zM496 442h1v1h-1zM430 578h3v1h-3zM824 578h8v1h-8zM451 556h1v1h-1zM802 556h1v1h-1zM561 388h1v1h-1zM593 388h2v1h-2zM395 597h2v1h-2zM857 597h2v1h-2zM637 430h1v1h-1zM467 513h1v1h-1zM736 513h1v1h-1zM499 435h1v1h-1zM501 435h3v1h-3zM768 482h1v1h-1zM772 482h1v1h-1zM407 591h2v1h-2zM849 591h1v1h-1zM449 561h1v1h-1zM804 561h1v1h-1zM562 390h1v1h-1zM561 387h1v1h-1zM593 387h1v1h-1zM595 387h1v1h-1zM756 475h1v1h-1zM775 475h1v1h-1zM418 583h2v1h-2zM838 583h1v1h-1zM466 515h1v1h-1zM412 588h1v1h-1zM844 588h2v1h-2zM438 574h2v1h-2zM821 574h1v1h-1zM667 397h1v1h-1zM444 570h2v1h-2zM817 570h2v1h-2zM739 507h1v1h-1zM447 567h1v1h-1zM810 567h2v1h-2zM403 593h2v1h-2zM852 593h1v1h-1zM559 384h1v1h-1zM591 384h1v1h-1zM596 384h1v1h-1zM562 389h1v1h-1zM594 389h1v1h-1zM440 573h1v1h-1zM820 573h1v1h-1zM417 584h1v1h-1zM839 584h1v1h-1zM805 563h1v1h-1zM563 392h1v1h-1zM806 564h1v1h-1zM469 509h1v1h-1zM738 509h1v1h-1zM638 427h1v1h-1zM413 587h2v1h-2zM842 587h2v1h-2zM763 480h3v1h-3zM773 480h1v1h-1zM532 394h1v1h-1zM666 394h1v1h-1zM766 481h2v1h-2zM772 481h1v1h-1zM589 380h1v1h-1zM598 380h1v1h-1zM426 579h4v1h-4zM832 579h2v1h-2zM637 429h1v1h-1zM415 586h1v1h-1zM841 586h1v1h-1zM804 560h1v1h-1zM446 569h1v1h-1zM814 569h3v1h-3zM806 565h2v1h-2zM589 379h1v1h-1zM598 379h1v1h-1zM447 566h1v1h-1zM808 566h2v1h-2zM466 514h1v1h-1zM736 514h1v1h-1zM483 459h6v1h-6zM627 360h1v1h-1zM667 396h1v1h-1zM435 576h2v1h-2zM822 576h1v1h-1zM740 506h1v1h-1zM777 470h8v1h-8zM771 484h1v1h-1zM405 592h2v1h-2zM850 592h2v1h-2zM449 562h1v1h-1zM805 562h1v1h-1zM490 455h1v1h-1zM802 555h1v1h-1zM389 599h3v1h-3zM861 599h3v1h-3zM754 473h1v1h-1zM776 473h1v1h-1zM468 510h1v1h-1zM738 510h1v1h-1zM420 582h1v1h-1zM837 582h1v1h-1zM628 359h1v1h-1zM759 479h4v1h-4zM773 479h1v1h-1zM624 366h1v1h-1zM753 472h1v1h-1zM776 472h1v1h-1zM756 476h1v1h-1zM668 399h1v1h-1zM465 517h1v1h-1zM713 517h2v1h-2zM532 395h1v1h-1zM666 395h1v1h-1zM409 590h2v1h-2zM848 590h1v1h-1zM758 478h1v1h-1zM628 358h1v1h-1zM465 516h1v1h-1zM787 468h2v1h-2zM397 596h2v1h-2zM856 596h1v1h-1zM627 361h1v1h-1zM668 398h1v1h-1zM462 519h3v1h-3zM716 519h2v1h-2zM559 383h1v1h-1zM591 383h1v1h-1zM491 454h1v1h-1zM446 568h1v1h-1zM812 568h2v1h-2zM640 423h1v1h-1zM490 456h1v1h-1zM504 436h5v1h-5zM639 426h1v1h-1zM469 508h1v1h-1zM739 508h1v1h-1zM509 437h2v1h-2zM464 518h1v1h-1zM715 518h1v1h-1zM607 347h1v1h-1zM468 511h1v1h-1zM737 511h1v1h-1zM416 585h1v1h-1zM840 585h1v1h-1zM433 577h2v1h-2zM823 577h1v1h-1zM560 385h1v1h-1zM592 385h1v1h-1zM596 385h1v1h-1zM624 367h1v1h-1zM399 595h2v1h-2zM854 595h2v1h-2zM493 450h1v1h-1zM489 457h1v1h-1zM467 512h1v1h-1zM737 512h1v1h-1zM441 572h2v1h-2zM819 572h1v1h-1zM411 589h1v1h-1zM846 589h2v1h-2zM639 425h1v1h-1zM636 432h1v1h-1zM384 601h2v1h-2zM866 601h2v1h-2zM599 378h1v1h-1zM785 469h2v1h-2zM610 355h1v1h-1zM590 381h1v1h-1zM421 581h2v1h-2zM836 581h1v1h-1zM386 600h3v1h-3zM864 600h2v1h-2zM423 580h3v1h-3zM834 580h2v1h-2zM443 571h1v1h-1zM819 571h1v1h-1zM609 352h1v1h-1zM640 424h1v1h-1zM636 431h1v1h-1zM499 434h2v1h-2zM599 377h1v1h-1zM626 362h1v1h-1zM437 575h1v1h-1zM822 575h1v1h-1zM610 354h1v1h-1zM607 348h1v1h-1zM755 474h1v1h-1zM775 474h1v1h-1zM625 364h1v1h-1zM493 451h1v1h-1zM489 458h1v1h-1zM669 401h1v1h-1zM492 453h1v1h-1zM560 386h1v1h-1zM592 386h1v1h-1zM595 386h1v1h-1zM590 382h1v1h-1zM769 483h3v1h-3zM669 400h1v1h-1zM563 391h1v1h-1zM492 452h1v1h-1zM609 353h1v1h-1zM496 443h1v1h-1zM451 557h1v1h-1zM626 363h1v1h-1zM740 505h1v1h-1zM625 365h1v1h-1zM638 428h1v1h-1z"/>
<path fill="#000" d="M721 580h1v4h-1zM317 578h1v3h-1zM781 561h1v4h-1zM686 559h1v3h-1zM447 561h1v3h-1zM561 548h1v3h-1zM593 525h1v4h-1zM731 567h1v3h-1zM823 562h1v3h-1zM424 588h1v4h-1zM444 566h1v4h-1zM762 560h1v7h-1zM826 568h1v4h-1zM280 578h1v3h-1zM321 589h1v3h-1zM720 584h1v4h-1zM763 553h1v7h-1zM427 578h1v4h-1zM501 564h1v3h-1zM442 575h1v4h-1zM451 572h1v3h-1zM526 577h1v3h-1zM443 570h1v5h-1zM454 569h1v3h-1zM592 529h1v4h-1zM683 567h1v3h-1zM778 549h1v4h-1zM830 586h1v4h-1zM279 581h1v3h-1zM719 588h1v4h-1zM554 547h1v3h-1zM827 572h1v5h-1zM588 545h1v3h-1zM724 569h1v3h-1zM503 569h1v3h-1zM320 586h1v3h-1zM822 565h1v3h-1zM426 582h1v3h-1zM457 561h1v3h-1zM446 559h1v3h-1zM689 557h1v3h-1zM761 567h1v6h-1zM723 572h1v4h-1zM685 562h1v3h-1zM560 551h1v3h-1zM556 552h1v3h-1zM450 569h1v3h-1zM765 543h1v4h-1zM777 546h1v3h-1zM734 575h1v3h-1zM441 579h1v4h-1zM829 582h1v4h-1zM453 572h1v3h-1zM591 533h1v4h-1zM780 557h1v4h-1zM718 592h1v3h-1zM825 563h1v5h-1zM828 577h1v5h-1zM692 565h1v3h-1zM445 562h1v4h-1zM643 556h1v3h-1zM760 573h1v7h-1zM277 586h1v3h-1zM779 553h1v4h-1zM821 568h1v4h-1zM590 537h1v4h-1zM764 547h1v6h-1zM425 585h1v3h-1zM589 541h1v4h-1zM691 562h1v3h-1zM722 576h1v4h-1zM786 562h1v3h-1zM820 572h1v3h-1zM759 580h1v4h-1zM824 560h1v3h-1zM782 565h1v4h-1zM559 554h1v3h-1zM276 589h1v3h-1zM456 564h1v3h-1zM318 581h1v3h-1zM448 564h1v3h-1zM732 570h1v3h-1zM819 575h1v3h-1zM504 572h1v3h-1zM694 570h1v3h-1zM500 561h1v3h-1zM562 545h1v3h-1zM645 561h1v3h-1zM679 563h1v3h-1zM563 542h1v3h-1zM440 583h1v3h-1zM215 594h1v1h-1zM217 594h1v1h-1zM233 594h1v1h-1zM235 594h1v1h-1zM274 594h1v1h-1zM323 594h1v1h-1zM351 594h1v1h-1zM359 594h1v1h-1zM410 594h1v1h-1zM716 594h2v1h-2zM833 594h1v1h-1zM843 594h1v1h-1zM858 594h1v1h-1zM213 598h1v1h-1zM219 598h1v1h-1zM231 598h1v1h-1zM237 598h1v1h-1zM272 598h1v1h-1zM325 598h1v1h-1zM349 598h1v1h-1zM361 598h1v1h-1zM408 598h1v1h-1zM835 598h1v1h-1zM840 598h1v1h-1zM860 598h2v1h-2zM541 556h1v1h-1zM557 556h1v1h-1zM688 556h1v1h-1zM789 556h3v1h-3zM795 556h1v1h-1zM807 556h1v1h-1zM708 588h1v1h-1zM848 588h2v1h-2zM855 588h1v1h-1zM304 567h1v1h-1zM449 567h1v1h-1zM455 567h1v1h-1zM464 567h30v1h-30zM502 567h1v1h-1zM532 567h1v1h-1zM647 567h1v1h-1zM656 567h1v1h-1zM662 567h1v1h-1zM680 567h1v1h-1zM727 567h1v1h-1zM744 567h1v1h-1zM750 567h1v1h-1zM784 567h1v1h-1zM812 567h1v1h-1zM302 570h1v1h-1zM306 570h1v1h-1zM530 570h1v1h-1zM658 570h1v1h-1zM660 570h1v1h-1zM682 570h1v1h-1zM742 570h1v1h-1zM752 570h1v1h-1zM783 570h1v1h-1zM814 570h1v1h-1zM301 573h1v1h-1zM308 573h1v1h-1zM528 573h1v1h-1zM695 573h1v1h-1zM733 573h1v1h-1zM739 573h1v1h-1zM754 573h1v1h-1zM815 573h1v1h-1zM463 566h1v1h-1zM494 566h1v1h-1zM532 566h1v1h-1zM647 566h3v1h-3zM655 566h1v1h-1zM662 566h1v1h-1zM671 566h1v1h-1zM680 566h1v1h-1zM684 566h1v1h-1zM728 566h3v1h-3zM745 566h1v1h-1zM749 566h1v1h-1zM785 566h1v1h-1zM812 566h1v1h-1zM542 553h1v1h-1zM641 553h1v1h-1zM770 553h1v1h-1zM772 553h1v1h-1zM799 553h1v1h-1zM802 553h3v1h-3zM215 595h1v1h-1zM217 595h1v1h-1zM233 595h1v1h-1zM235 595h1v1h-1zM274 595h1v1h-1zM323 595h1v1h-1zM351 595h1v1h-1zM359 595h1v1h-1zM410 595h1v1h-1zM833 595h1v1h-1zM843 595h1v1h-1zM858 595h1v1h-1zM216 593h1v1h-1zM234 593h1v1h-1zM275 593h1v1h-1zM322 593h1v1h-1zM352 593h7v1h-7zM411 593h13v1h-13zM712 593h4v1h-4zM832 593h1v1h-1zM844 593h1v1h-1zM857 593h1v1h-1zM542 554h1v1h-1zM642 554h1v1h-1zM770 554h1v1h-1zM772 554h1v1h-1zM798 554h1v1h-1zM805 554h2v1h-2zM281 576h19v1h-19zM310 576h7v1h-7zM428 576h1v1h-1zM452 576h1v1h-1zM505 576h1v1h-1zM527 576h1v1h-1zM696 576h1v1h-1zM737 576h1v1h-1zM755 576h1v1h-1zM817 576h1v1h-1zM303 569h1v1h-1zM305 569h1v1h-1zM530 569h1v1h-1zM657 569h1v1h-1zM660 569h1v1h-1zM681 569h1v1h-1zM693 569h1v1h-1zM742 569h1v1h-1zM751 569h1v1h-1zM783 569h1v1h-1zM813 569h1v1h-1zM462 565h1v1h-1zM494 565h1v1h-1zM533 565h1v1h-1zM646 565h1v1h-1zM650 565h1v1h-1zM654 565h1v1h-1zM663 565h1v1h-1zM669 565h2v1h-2zM672 565h1v1h-1zM684 565h1v1h-1zM730 565h1v1h-1zM745 565h1v1h-1zM748 565h1v1h-1zM785 565h1v1h-1zM811 565h1v1h-1zM546 546h1v1h-1zM553 546h1v1h-1zM568 546h1v1h-1zM573 546h1v1h-1zM587 546h1v1h-1zM613 546h1v1h-1zM626 546h1v1h-1zM636 546h1v1h-1zM766 546h1v1h-1zM462 564h1v1h-1zM495 564h1v1h-1zM534 564h1v1h-1zM646 564h1v1h-1zM651 564h2v1h-2zM654 564h1v1h-1zM664 564h1v1h-1zM668 564h1v1h-1zM672 564h1v1h-1zM746 564h1v1h-1zM748 564h1v1h-1zM811 564h1v1h-1zM541 555h1v1h-1zM557 555h1v1h-1zM642 555h1v1h-1zM688 555h1v1h-1zM771 555h1v1h-1zM796 555h2v1h-2zM806 555h1v1h-1zM431 580h1v1h-1zM508 580h1v1h-1zM525 580h1v1h-1zM698 580h1v1h-1zM757 580h1v1h-1zM211 600h1v1h-1zM221 600h1v1h-1zM229 600h1v1h-1zM239 600h1v1h-1zM270 600h1v1h-1zM327 600h1v1h-1zM347 600h1v1h-1zM363 600h1v1h-1zM406 600h1v1h-1zM836 600h2v1h-2zM863 600h2v1h-2zM564 540h1v1h-1zM580 540h3v1h-3zM609 540h1v1h-1zM461 563h1v1h-1zM496 563h1v1h-1zM534 563h1v1h-1zM653 563h1v1h-1zM664 563h1v1h-1zM666 563h2v1h-2zM673 563h1v1h-1zM747 563h1v1h-1zM810 563h1v1h-1zM547 543h6v1h-6zM566 543h1v1h-1zM575 543h1v1h-1zM585 543h1v1h-1zM612 543h1v1h-1zM628 543h1v1h-1zM631 543h2v1h-2zM543 552h1v1h-1zM617 552h4v1h-4zM641 552h1v1h-1zM769 552h1v1h-1zM773 552h1v1h-1zM800 552h2v1h-2zM458 559h1v1h-1zM499 559h1v1h-1zM538 559h1v1h-1zM644 559h1v1h-1zM675 559h1v1h-1zM677 559h1v1h-1zM788 559h1v1h-1zM808 559h1v1h-1zM278 585h1v1h-1zM319 585h1v1h-1zM434 585h6v1h-6zM511 585h13v1h-13zM705 585h2v1h-2zM431 581h1v1h-1zM508 581h1v1h-1zM525 581h1v1h-1zM699 581h1v1h-1zM758 581h1v1h-1zM213 597h1v1h-1zM219 597h1v1h-1zM231 597h1v1h-1zM237 597h1v1h-1zM272 597h1v1h-1zM325 597h1v1h-1zM349 597h1v1h-1zM361 597h1v1h-1zM408 597h1v1h-1zM834 597h1v1h-1zM841 597h1v1h-1zM859 597h1v1h-1zM540 557h1v1h-1zM558 557h1v1h-1zM676 557h1v1h-1zM687 557h1v1h-1zM789 557h1v1h-1zM792 557h3v1h-3zM807 557h1v1h-1zM212 599h1v1h-1zM220 599h1v1h-1zM230 599h1v1h-1zM238 599h1v1h-1zM271 599h1v1h-1zM326 599h1v1h-1zM348 599h1v1h-1zM362 599h1v1h-1zM407 599h1v1h-1zM835 599h1v1h-1zM838 599h2v1h-2zM862 599h1v1h-1zM545 547h1v1h-1zM568 547h1v1h-1zM572 547h1v1h-1zM614 547h1v1h-1zM626 547h1v1h-1zM637 547h1v1h-1zM767 547h1v1h-1zM776 547h1v1h-1zM710 591h1v1h-1zM831 591h1v1h-1zM846 591h1v1h-1zM856 591h1v1h-1zM302 571h1v1h-1zM307 571h1v1h-1zM529 571h1v1h-1zM659 571h1v1h-1zM682 571h1v1h-1zM741 571h1v1h-1zM753 571h1v1h-1zM814 571h1v1h-1zM214 596h1v1h-1zM218 596h1v1h-1zM232 596h1v1h-1zM236 596h1v1h-1zM273 596h1v1h-1zM324 596h1v1h-1zM350 596h1v1h-1zM360 596h1v1h-1zM409 596h1v1h-1zM834 596h1v1h-1zM842 596h1v1h-1zM859 596h1v1h-1zM545 548h1v1h-1zM569 548h1v1h-1zM571 548h1v1h-1zM615 548h1v1h-1zM625 548h1v1h-1zM638 548h1v1h-1zM767 548h1v1h-1zM776 548h1v1h-1zM211 601h1v1h-1zM221 601h1v1h-1zM229 601h1v1h-1zM239 601h1v1h-1zM270 601h1v1h-1zM327 601h1v1h-1zM347 601h1v1h-1zM363 601h1v1h-1zM406 601h1v1h-1zM836 601h1v1h-1zM865 601h11v1h-11zM564 541h2v1h-2zM576 541h4v1h-4zM583 541h1v1h-1zM610 541h1v1h-1zM459 561h1v1h-1zM497 561h1v1h-1zM536 561h1v1h-1zM674 561h1v1h-1zM678 561h1v1h-1zM690 561h1v1h-1zM787 561h1v1h-1zM809 561h1v1h-1zM303 568h1v1h-1zM305 568h1v1h-1zM449 568h1v1h-1zM455 568h1v1h-1zM502 568h1v1h-1zM531 568h1v1h-1zM657 568h1v1h-1zM661 568h1v1h-1zM681 568h1v1h-1zM693 568h1v1h-1zM725 568h2v1h-2zM743 568h1v1h-1zM751 568h1v1h-1zM784 568h1v1h-1zM813 568h1v1h-1zM607 537h1v1h-1zM539 558h1v1h-1zM558 558h1v1h-1zM675 558h2v1h-2zM687 558h1v1h-1zM788 558h1v1h-1zM808 558h1v1h-1zM300 574h1v1h-1zM309 574h1v1h-1zM528 574h1v1h-1zM695 574h1v1h-1zM733 574h1v1h-1zM739 574h1v1h-1zM754 574h1v1h-1zM816 574h1v1h-1zM546 545h1v1h-1zM553 545h1v1h-1zM567 545h1v1h-1zM573 545h1v1h-1zM586 545h1v1h-1zM613 545h1v1h-1zM627 545h1v1h-1zM635 545h1v1h-1zM766 545h1v1h-1zM430 579h1v1h-1zM507 579h1v1h-1zM698 579h1v1h-1zM735 579h1v1h-1zM757 579h1v1h-1zM818 579h1v1h-1zM300 575h1v1h-1zM309 575h1v1h-1zM452 575h1v1h-1zM505 575h1v1h-1zM527 575h1v1h-1zM696 575h1v1h-1zM738 575h1v1h-1zM755 575h1v1h-1zM816 575h1v1h-1zM565 542h1v1h-1zM575 542h1v1h-1zM584 542h1v1h-1zM611 542h1v1h-1zM629 542h2v1h-2zM710 590h1v1h-1zM831 590h1v1h-1zM846 590h1v1h-1zM856 590h1v1h-1zM547 544h1v1h-1zM552 544h1v1h-1zM566 544h1v1h-1zM574 544h1v1h-1zM585 544h1v1h-1zM612 544h1v1h-1zM628 544h1v1h-1zM633 544h2v1h-2zM606 536h1v1h-1zM301 572h1v1h-1zM307 572h1v1h-1zM529 572h1v1h-1zM740 572h1v1h-1zM753 572h1v1h-1zM815 572h1v1h-1zM709 589h1v1h-1zM847 589h1v1h-1zM855 589h1v1h-1zM281 577h1v1h-1zM316 577h1v1h-1zM428 577h2v1h-2zM506 577h1v1h-1zM697 577h1v1h-1zM736 577h1v1h-1zM756 577h1v1h-1zM817 577h1v1h-1zM707 587h1v1h-1zM850 587h3v1h-3zM854 587h1v1h-1zM599 532h1v1h-1zM543 551h1v1h-1zM555 551h1v1h-1zM616 551h1v1h-1zM621 551h3v1h-3zM640 551h1v1h-1zM769 551h1v1h-1zM774 551h1v1h-1zM602 534h2v1h-2zM429 578h1v1h-1zM506 578h1v1h-1zM697 578h1v1h-1zM735 578h2v1h-2zM756 578h1v1h-1zM818 578h1v1h-1zM278 584h1v1h-1zM319 584h1v1h-1zM433 584h1v1h-1zM510 584h1v1h-1zM523 584h1v1h-1zM702 584h3v1h-3zM594 524h2v1h-2zM544 550h1v1h-1zM555 550h1v1h-1zM570 550h1v1h-1zM616 550h1v1h-1zM624 550h1v1h-1zM639 550h1v1h-1zM768 550h1v1h-1zM774 550h1v1h-1zM595 525h1v1h-1zM707 586h1v1h-1zM853 586h2v1h-2zM432 582h1v1h-1zM509 582h1v1h-1zM524 582h1v1h-1zM699 582h1v1h-1zM758 582h1v1h-1zM433 583h1v1h-1zM510 583h1v1h-1zM524 583h1v1h-1zM700 583h2v1h-2zM458 560h2v1h-2zM498 560h2v1h-2zM537 560h1v1h-1zM644 560h1v1h-1zM674 560h1v1h-1zM677 560h1v1h-1zM690 560h1v1h-1zM787 560h1v1h-1zM809 560h1v1h-1zM460 562h1v1h-1zM497 562h1v1h-1zM535 562h1v1h-1zM665 562h1v1h-1zM673 562h1v1h-1zM678 562h1v1h-1zM810 562h1v1h-1zM598 530h1v1h-1zM544 549h1v1h-1zM569 549h1v1h-1zM571 549h1v1h-1zM615 549h1v1h-1zM624 549h1v1h-1zM638 549h1v1h-1zM768 549h1v1h-1zM775 549h1v1h-1zM594 523h1v1h-1zM608 538h1v1h-1zM598 529h1v1h-1zM596 527h1v1h-1zM597 528h1v1h-1zM604 535h2v1h-2zM600 533h2v1h-2zM596 526h1v1h-1zM275 592h1v1h-1zM322 592h1v1h-1zM423 592h1v1h-1zM711 592h1v1h-1zM832 592h1v1h-1zM845 592h1v1h-1zM857 592h1v1h-1zM599 531h1v1h-1zM608 539h1v1h-1z"/>
<rect x="995" y="63" width="1" height="538" fill="#808080"/>
<rect x="151" y="603" width="1" height="4" fill="#808080"/>
<rect x="186" y="603" width="1" height="4" fill="#808080"/>
<rect x="222" y="603" width="1" height="4" fill="#808080"/>
<rect x="257" y="603" width="1" height="4" fill="#808080"/>
<rect x="293" y="603" width="1" height="4" fill="#808080"/>
<rect x="328" y="603" width="1" height="4" fill="#808080"/>
<rect x="363" y="603" width="1" height="4" fill="#808080"/>
<rect x="399" y="603" width="1" height="4" fill="#808080"/>
<rect x="434" y="603" width="1" height="4" fill="#808080"/>
<rect x="470" y="603" width="1" height="4" fill="#808080"/>
<rect x="505" y="603" width="1" height="4" fill="#808080"/>
<rect x="541" y="603" width="1" height="4" fill="#808080"/>
<rect x="576" y="603" width="1" height="4" fill="#808080"/>
<rect x="611" y="603" width="1" height="4" fill="#808080"/>
<rect x="647" y="603" width="1" height="4" fill="#808080"/>
<rect x="682" y="603" width="1" height="4" fill="#808080"/>
<rect x="718" y="603" width="1" height="4" fill="#808080"/>
<rect x="753" y="603" width="1" height="4" fill="#808080"/>
<rect x="789" y="603" width="1" height="4" fill="#808080"/>
<rect x="824" y="603" width="1" height="4" fill="#808080"/>
<rect x="859" y="603" width="1" height="4" fill="#808080"/>
<rect x="895" y="603" width="1" height="4" fill="#808080"/>
<rect x="930" y="603" width="1" height="4" fill="#808080"/>
<rect x="966" y="603" width="1" height="4" fill="#808080"/>
<rect x="1001" y="603" width="1" height="4" fill="#808080"/>
<rect x="382" y="598" width="2" height="11" fill="#FFFF00"/>
<rect x="867" y="598" width="2" height="11" fill="#FFFF00"/>
<rect x="381" y="625" width="4" height="6" fill="#FFFF00"/>
<rect x="380" y="626" width="6" height="4" fill="#FFFF00"/>
<rect x="382" y="622" width="2" height="2" fill="#FFFF90"/>
<rect x="382" y="632" width="2" height="2" fill="#FFFF90"/>
<rect x="377" y="627" width="2" height="2" fill="#FFFF90"/>
<rect x="387" y="627" width="2" height="2" fill="#FFFF90"/>
<rect x="378" y="623" width="1" height="1" fill="#FFFF90"/>
<rect x="379" y="624" width="1" height="1" fill="#FFFF90"/>
<rect x="387" y="623" width="1" height="1" fill="#FFFF90"/>
<rect x="386" y="624" width="1" height="1" fill="#FFFF90"/>
<rect x="378" y="632" width="1" height="1" fill="#FFFF90"/>
<rect x="379" y="631" width="1" height="1" fill="#FFFF90"/>
<rect x="387" y="632" width="1" height="1" fill="#FFFF90"/>
<rect x="386" y="631" width="1" height="1" fill="#FFFF90"/>
<rect x="380" y="624" width="6" height="1" fill="#FFFFD0"/>
<rect x="380" y="631" width="6" height="1" fill="#FFFFD0"/>
<rect x="379" y="625" width="1" height="6" fill="#FFFFD0"/>
<rect x="386" y="625" width="1" height="6" fill="#FFFFD0"/>
<rect x="43" y="625" width="3" height="1" fill="#FFFF00"/>
<rect x="41" y="626" width="7" height="2" fill="#FFFF00"/>
<rect x="40" y="628" width="9" height="3" fill="#FFFF00"/>
<rect x="865" y="625" width="6" height="6" fill="#FFFF30"/>
<rect x="866" y="626" width="4" height="4" fill="#fff"/>
<rect x="1" y="639" width="1150" height="72" fill="#CCFAF7"/>
<rect x="1151" y="638" width="1" height="73" fill="#ACA899"/>
<rect x="88" y="639" width="1" height="72" fill="#ACA899"/>
<rect x="87" y="639" width="1" height="72" fill="#FFFFFF"/>
<rect x="205" y="639" width="1" height="72" fill="#ACA899"/>
<rect x="204" y="639" width="1" height="72" fill="#FFFFFF"/>
<rect x="323" y="639" width="1" height="72" fill="#ACA899"/>
<rect x="322" y="639" width="1" height="72" fill="#FFFFFF"/>
<rect x="441" y="639" width="1" height="72" fill="#ACA899"/>
<rect x="440" y="639" width="1" height="72" fill="#FFFFFF"/>
<rect x="559" y="639" width="1" height="72" fill="#ACA899"/>
<rect x="558" y="639" width="1" height="72" fill="#FFFFFF"/>
<rect x="677" y="639" width="1" height="72" fill="#ACA899"/>
<rect x="676" y="639" width="1" height="72" fill="#FFFFFF"/>
<rect x="795" y="639" width="1" height="72" fill="#ACA899"/>
<rect x="794" y="639" width="1" height="72" fill="#FFFFFF"/>
<g filter="url(#bin)"><text transform="translate(988.5 15.75) scale(0.9 1)" x="0.00 8.89 17.78 26.33 30.00 36.67 43.33 48.89 55.56 62.22 65.56 68.89 75.56 82.22 88.89 95.56 104.44 111.11 113.33 120.00 123.33 132.22 138.89 142.22 145.56 152.22 155.22 158.89 165.56" y="0" fill="#FF0000" font-size="12">www.neckar-odenwald-wetter.de</text>
<text transform="translate(175.5 41.75) scale(0.9 1)" x="0.00 7.78 14.44 23.33 29.67 33.33 36.67 44.11" y="0" fill="#FF0080" font-size="12">Temp. A.</text>
<text transform="translate(175.5 55.75) scale(0.9 1)" x="0.00 7.78 14.44 21.11 27.78 34.44 41.11 47.78" y="0" fill="#FF0080" font-size="12">Taupunkt</text>
<text transform="translate(270.5 41.75) scale(0.9 1)" x="0.00 7.78 14.44 21.11 26.67 33.33 36.67 43.33 46.67 54.11" y="0" fill="#800080" font-size="12">Feuchte A.</text>
<text transform="translate(270.5 55.75) scale(0.9 1)" x="0.00 11.11 13.33 20.00 26.67 33.33 40.00 46.67" y="0" fill="#000" font-size="12">Windböen</text>
<text transform="translate(365.5 41.75) scale(0.9 1)" x="0.00 6.67 13.33 16.67 20.00 26.67 31.11 37.78 43.33" y="0" fill="#00FF00" font-size="12">Luftdruck</text>
<text transform="translate(460.5 41.75) scale(0.9 1)" x="0.00 8.89 15.56 22.22 28.89" y="0" fill="#00FFFF" font-size="12">Regen</text>
<text transform="translate(555.5 41.75) scale(0.9 1)" x="0.00 11.11 13.33 20.00" y="0" fill="#000" font-size="12">Wind</text>
<text transform="translate(650.5 41.75) scale(0.9 1)" x="0.00 8.89 11.11 16.67 23.33 26.67 33.33 40.00" y="0" fill="#808080" font-size="12">Richtung</text>
<text transform="translate(745.5 41.75) scale(0.9 1)" x="0.00 7.78 14.44 21.11 27.78 34.44 41.11 46.67 52.22 58.89 65.56 67.78" y="0" fill="#FFDEA0" font-size="12">Sonnenschein</text>
<text transform="translate(840.5 41.75) scale(0.9 1)" x="0.00 7.78 14.44 16.67 23.33" y="0" fill="#FF8040" font-size="12">Solar</text>
<text transform="translate(9.5 606.75) scale(0.9 1)" x="0.00 4.44 11.11 17.44 21.11" y="0" fill="#FF0080" font-size="12">-10.0</text>
<text transform="translate(15.5 538.75) scale(0.9 1)" x="0.00 4.44 10.78 14.44" y="0" fill="#FF0080" font-size="12">-5.0</text>
<text transform="translate(19.5 471.75) scale(0.9 1)" x="0.00 6.33 10.00" y="0" fill="#FF0080" font-size="12">0.0</text>
<text transform="translate(19.5 404.75) scale(0.9 1)" x="0.00 6.33 10.00" y="0" fill="#FF0080" font-size="12">5.0</text>
<text transform="translate(13.5 336.75) scale(0.9 1)" x="0.00 6.67 13.00 16.67" y="0" fill="#FF0080" font-size="12">10.0</text>
<text transform="translate(13.5 268.75) scale(0.9 1)" x="0.00 6.67 13.00 16.67" y="0" fill="#FF0080" font-size="12">15.0</text>
<text transform="translate(13.5 201.75) scale(0.9 1)" x="0.00 6.67 13.00 16.67" y="0" fill="#FF0080" font-size="12">20.0</text>
<text transform="translate(13.5 134.75) scale(0.9 1)" x="0.00 6.67 13.00 16.67" y="0" fill="#FF0080" font-size="12">25.0</text>
<text transform="translate(13.5 66.75) scale(0.9 1)" x="0.00 6.67 13.00 16.67" y="0" fill="#FF0080" font-size="12">30.0</text>
<text transform="translate(20.5 50.75) scale(0.9 1)" x="0.00 4.44" y="0" fill="#FF0080" font-size="12">°C</text>
<text transform="translate(53.5 606.75) scale(0.9 1)" x="0.00 6.67 13.33" y="0" fill="#00FF00" font-size="12">990</text>
<text transform="translate(53.5 538.75) scale(0.9 1)" x="0.00 6.67 13.33" y="0" fill="#00FF00" font-size="12">995</text>
<text transform="translate(47.5 471.75) scale(0.9 1)" x="0.00 6.67 13.33 20.00" y="0" fill="#00FF00" font-size="12">1000</text>
<text transform="translate(47.5 404.75) scale(0.9 1)" x="0.00 6.67 13.33 20.00" y="0" fill="#00FF00" font-size="12">1005</text>
<text transform="translate(47.5 336.75) scale(0.9 1)" x="0.00 6.67 13.33 20.00" y="0" fill="#00FF00" font-size="12">1010</text>
<text transform="translate(47.5 268.75) scale(0.9 1)" x="0.00 6.67 13.33 20.00" y="0" fill="#00FF00" font-size="12">1015</text>
<text transform="translate(47.5 201.75) scale(0.9 1)" x="0.00 6.67 13.33 20.00" y="0" fill="#00FF00" font-size="12">1020</text>
<text transform="translate(47.5 134.75) scale(0.9 1)" x="0.00 6.67 13.33 20.00" y="0" fill="#00FF00" font-size="12">1025</text>
<text transform="translate(47.5 66.75) scale(0.9 1)" x="0.00 6.67 13.33 20.00" y="0" fill="#00FF00" font-size="12">1030</text>
<text transform="translate(48.5 50.75) scale(0.9 1)" x="0.00 6.67 14.44" y="0" fill="#00FF00" font-size="12">hPa</text>
<text transform="translate(93.5 606.75) scale(0.9 1)" x="0.00 6.33 10.00" y="0" fill="#000" font-size="12">0.0</text>
<text transform="translate(93.5 579.75) scale(0.9 1)" x="0.00 6.33 10.00" y="0" fill="#000" font-size="12">5.0</text>
<text transform="translate(87.5 552.75) scale(0.9 1)" x="0.00 6.67 13.00 16.67" y="0" fill="#000" font-size="12">10.0</text>
<text transform="translate(87.5 525.75) scale(0.9 1)" x="0.00 6.67 13.00 16.67" y="0" fill="#000" font-size="12">15.0</text>
<text transform="translate(87.5 498.75) scale(0.9 1)" x="0.00 6.67 13.00 16.67" y="0" fill="#000" font-size="12">20.0</text>
<text transform="translate(87.5 471.75) scale(0.9 1)" x="0.00 6.67 13.00 16.67" y="0" fill="#000" font-size="12">25.0</text>
<text transform="translate(87.5 444.75) scale(0.9 1)" x="0.00 6.67 13.00 16.67" y="0" fill="#000" font-size="12">30.0</text>
<text transform="translate(87.5 417.75) scale(0.9 1)" x="0.00 6.67 13.00 16.67" y="0" fill="#000" font-size="12">35.0</text>
<text transform="translate(87.5 390.75) scale(0.9 1)" x="0.00 6.67 13.00 16.67" y="0" fill="#000" font-size="12">40.0</text>
<text transform="translate(87.5 363.75) scale(0.9 1)" x="0.00 6.67 13.00 16.67" y="0" fill="#000" font-size="12">45.0</text>
<text transform="translate(87.5 336.75) scale(0.9 1)" x="0.00 6.67 13.00 16.67" y="0" fill="#000" font-size="12">50.0</text>
<text transform="translate(87.5 309.75) scale(0.9 1)" x="0.00 6.67 13.00 16.67" y="0" fill="#000" font-size="12">55.0</text>
<text transform="translate(87.5 282.75) scale(0.9 1)" x="0.00 6.67 13.00 16.67" y="0" fill="#000" font-size="12">60.0</text>
<text transform="translate(87.5 255.75) scale(0.9 1)" x="0.00 6.67 13.00 16.67" y="0" fill="#000" font-size="12">65.0</text>
<text transform="translate(87.5 228.75) scale(0.9 1)" x="0.00 6.67 13.00 16.67" y="0" fill="#000" font-size="12">70.0</text>
<text transform="translate(87.5 201.75) scale(0.9 1)" x="0.00 6.67 13.00 16.67" y="0" fill="#000" font-size="12">75.0</text>
<text transform="translate(87.5 174.75) scale(0.9 1)" x="0.00 6.67 13.00 16.67" y="0" fill="#000" font-size="12">80.0</text>
<text transform="translate(87.5 147.75) scale(0.9 1)" x="0.00 6.67 13.00 16.67" y="0" fill="#000" font-size="12">85.0</text>
<text transform="translate(87.5 120.75) scale(0.9 1)" x="0.00 6.67 13.00 16.67" y="0" fill="#000" font-size="12">90.0</text>
<text transform="translate(87.5 93.75) scale(0.9 1)" x="0.00 6.67 13.00 16.67" y="0" fill="#000" font-size="12">95.0</text>
<text transform="translate(81.5 66.75) scale(0.9 1)" x="0.00 6.67 13.33 19.67 23.33" y="0" fill="#000" font-size="12">100.0</text>
<text transform="translate(79.5 50.75) scale(0.9 1)" x="0.00 6.67 15.56 20.00" y="0" fill="#000" font-size="12">km/h</text>
<text transform="translate(139.5 606.75) scale(0.9 1)" x="0.00" y="0" fill="#FFDEA0" font-size="12">0</text>
<text transform="translate(133.5 552.75) scale(0.9 1)" x="0.00 6.67" y="0" fill="#FFDEA0" font-size="12">10</text>
<text transform="translate(133.5 498.75) scale(0.9 1)" x="0.00 6.67" y="0" fill="#FFDEA0" font-size="12">20</text>
<text transform="translate(133.5 444.75) scale(0.9 1)" x="0.00 6.67" y="0" fill="#FFDEA0" font-size="12">30</text>
<text transform="translate(133.5 390.75) scale(0.9 1)" x="0.00 6.67" y="0" fill="#FFDEA0" font-size="12">40</text>
<text transform="translate(133.5 336.75) scale(0.9 1)" x="0.00 6.67" y="0" fill="#FFDEA0" font-size="12">50</text>
<text transform="translate(133.5 282.75) scale(0.9 1)" x="0.00 6.67" y="0" fill="#FFDEA0" font-size="12">60</text>
<text transform="translate(133.5 228.75) scale(0.9 1)" x="0.00 6.67" y="0" fill="#FFDEA0" font-size="12">70</text>
<text transform="translate(133.5 174.75) scale(0.9 1)" x="0.00 6.67" y="0" fill="#FFDEA0" font-size="12">80</text>
<text transform="translate(133.5 120.75) scale(0.9 1)" x="0.00 6.67" y="0" fill="#FFDEA0" font-size="12">90</text>
<text transform="translate(127.5 66.75) scale(0.9 1)" x="0.00 6.67 13.33" y="0" fill="#FFDEA0" font-size="12">100</text>
<text transform="translate(125.5 50.75) scale(0.9 1)" x="0.00 8.89 11.11" y="0" fill="#FFDEA0" font-size="12">min</text>
<text transform="translate(1007.5 606.75) scale(0.9 1)" x="0.00" y="0" fill="#800080" font-size="12">0</text>
<text transform="translate(1007.5 552.75) scale(0.9 1)" x="0.00 6.67" y="0" fill="#800080" font-size="12">10</text>
<text transform="translate(1007.5 498.75) scale(0.9 1)" x="0.00 6.67" y="0" fill="#800080" font-size="12">20</text>
<text transform="translate(1007.5 444.75) scale(0.9 1)" x="0.00 6.67" y="0" fill="#800080" font-size="12">30</text>
<text transform="translate(1007.5 390.75) scale(0.9 1)" x="0.00 6.67" y="0" fill="#800080" font-size="12">40</text>
<text transform="translate(1007.5 336.75) scale(0.9 1)" x="0.00 6.67" y="0" fill="#800080" font-size="12">50</text>
<text transform="translate(1007.5 282.75) scale(0.9 1)" x="0.00 6.67" y="0" fill="#800080" font-size="12">60</text>
<text transform="translate(1007.5 228.75) scale(0.9 1)" x="0.00 6.67" y="0" fill="#800080" font-size="12">70</text>
<text transform="translate(1007.5 174.75) scale(0.9 1)" x="0.00 6.67" y="0" fill="#800080" font-size="12">80</text>
<text transform="translate(1007.5 120.75) scale(0.9 1)" x="0.00 6.67" y="0" fill="#800080" font-size="12">90</text>
<text transform="translate(1007.5 66.75) scale(0.9 1)" x="0.00 6.67 13.33" y="0" fill="#800080" font-size="12">100</text>
<text transform="translate(1001.5 50.75) scale(0.9 1)" x="0.00" y="0" fill="#800080" font-size="12">%</text>
<text transform="translate(1044.5 606.75) scale(0.9 1)" x="0.00 6.33 10.00" y="0" fill="#00FFFF" font-size="12">0.0</text>
<text transform="translate(1044.5 498.75) scale(0.9 1)" x="0.00 6.33 10.00" y="0" fill="#00FFFF" font-size="12">1.0</text>
<text transform="translate(1044.5 390.75) scale(0.9 1)" x="0.00 6.33 10.00" y="0" fill="#00FFFF" font-size="12">2.0</text>
<text transform="translate(1044.5 282.75) scale(0.9 1)" x="0.00 6.33 10.00" y="0" fill="#00FFFF" font-size="12">3.0</text>
<text transform="translate(1044.5 174.75) scale(0.9 1)" x="0.00 6.33 10.00" y="0" fill="#00FFFF" font-size="12">4.0</text>
<text transform="translate(1044.5 66.75) scale(0.9 1)" x="0.00 6.33 10.00" y="0" fill="#00FFFF" font-size="12">5.0</text>
<text transform="translate(1038.5 50.75) scale(0.9 1)" x="0.00 2.22 6.67 15.56" y="0" fill="#00FFFF" font-size="12">l/m²</text>
<text transform="translate(1081.5 606.75) scale(0.9 1)" x="0.00" y="0" fill="#808080" font-size="12">0</text>
<text transform="translate(1081.5 561.75) scale(0.9 1)" x="0.00 6.67" y="0" fill="#808080" font-size="12">30</text>
<text transform="translate(1081.5 516.75) scale(0.9 1)" x="0.00 6.67" y="0" fill="#808080" font-size="12">60</text>
<text transform="translate(1081.5 471.75) scale(0.9 1)" x="0.00 6.67" y="0" fill="#808080" font-size="12">90</text>
<text transform="translate(1081.5 426.75) scale(0.9 1)" x="0.00 6.67 13.33" y="0" fill="#808080" font-size="12">120</text>
<text transform="translate(1081.5 381.75) scale(0.9 1)" x="0.00 6.67 13.33" y="0" fill="#808080" font-size="12">150</text>
<text transform="translate(1081.5 336.75) scale(0.9 1)" x="0.00 6.67 13.33" y="0" fill="#808080" font-size="12">180</text>
<text transform="translate(1081.5 291.75) scale(0.9 1)" x="0.00 6.67 13.33" y="0" fill="#808080" font-size="12">210</text>
<text transform="translate(1081.5 246.75) scale(0.9 1)" x="0.00 6.67 13.33" y="0" fill="#808080" font-size="12">240</text>
<text transform="translate(1081.5 201.75) scale(0.9 1)" x="0.00 6.67 13.33" y="0" fill="#808080" font-size="12">270</text>
<text transform="translate(1081.5 156.75) scale(0.9 1)" x="0.00 6.67 13.33" y="0" fill="#808080" font-size="12">300</text>
<text transform="translate(1081.5 111.75) scale(0.9 1)" x="0.00 6.67 13.33" y="0" fill="#808080" font-size="12">330</text>
<text transform="translate(1081.5 66.75) scale(0.9 1)" x="0.00 6.67 13.33" y="0" fill="#808080" font-size="12">360</text>
<text transform="translate(1102.5 66.75) scale(0.9 1)" x="0.00" y="0" fill="#808080" font-size="12">N</text>
<text transform="translate(1101.5 201.75) scale(0.9 1)" x="0.00" y="0" fill="#808080" font-size="12">W</text>
<text transform="translate(1102.5 336.75) scale(0.9 1)" x="0.00" y="0" fill="#808080" font-size="12">S</text>
<text transform="translate(1100.5 471.75) scale(0.9 1)" x="0.00" y="0" fill="#808080" font-size="12">O</text>
<text transform="translate(1099.5 606.75) scale(0.9 1)" x="0.00" y="0" fill="#808080" font-size="12">N</text>
<text transform="translate(1076.5 50.75) scale(0.9 1)" x="0.00" y="0" fill="#808080" font-size="12">°</text>
<text transform="translate(1118.5 606.75) scale(0.9 1)" x="0.00" y="0" fill="#FF8040" font-size="12">0</text>
<text transform="translate(1118.5 588.75) scale(0.9 1)" x="0.00 6.67" y="0" fill="#FF8040" font-size="12">50</text>
<text transform="translate(1118.5 570.75) scale(0.9 1)" x="0.00 6.67 13.33" y="0" fill="#FF8040" font-size="12">100</text>
<text transform="translate(1118.5 552.75) scale(0.9 1)" x="0.00 6.67 13.33" y="0" fill="#FF8040" font-size="12">150</text>
<text transform="translate(1118.5 534.75) scale(0.9 1)" x="0.00 6.67 13.33" y="0" fill="#FF8040" font-size="12">200</text>
<text transform="translate(1118.5 516.75) scale(0.9 1)" x="0.00 6.67 13.33" y="0" fill="#FF8040" font-size="12">250</text>
<text transform="translate(1118.5 498.75) scale(0.9 1)" x="0.00 6.67 13.33" y="0" fill="#FF8040" font-size="12">300</text>
<text transform="translate(1118.5 480.75) scale(0.9 1)" x="0.00 6.67 13.33" y="0" fill="#FF8040" font-size="12">350</text>
<text transform="translate(1118.5 462.75) scale(0.9 1)" x="0.00 6.67 13.33" y="0" fill="#FF8040" font-size="12">400</text>
<text transform="translate(1118.5 444.75) scale(0.9 1)" x="0.00 6.67 13.33" y="0" fill="#FF8040" font-size="12">450</text>
<text transform="translate(1118.5 426.75) scale(0.9 1)" x="0.00 6.67 13.33" y="0" fill="#FF8040" font-size="12">500</text>
<text transform="translate(1118.5 408.75) scale(0.9 1)" x="0.00 6.67 13.33" y="0" fill="#FF8040" font-size="12">550</text>
<text transform="translate(1118.5 390.75) scale(0.9 1)" x="0.00 6.67 13.33" y="0" fill="#FF8040" font-size="12">600</text>
<text transform="translate(1118.5 372.75) scale(0.9 1)" x="0.00 6.67 13.33" y="0" fill="#FF8040" font-size="12">650</text>
<text transform="translate(1118.5 354.75) scale(0.9 1)" x="0.00 6.67 13.33" y="0" fill="#FF8040" font-size="12">700</text>
<text transform="translate(1118.5 336.75) scale(0.9 1)" x="0.00 6.67 13.33" y="0" fill="#FF8040" font-size="12">750</text>
<text transform="translate(1118.5 318.75) scale(0.9 1)" x="0.00 6.67 13.33" y="0" fill="#FF8040" font-size="12">800</text>
<text transform="translate(1118.5 300.75) scale(0.9 1)" x="0.00 6.67 13.33" y="0" fill="#FF8040" font-size="12">850</text>
<text transform="translate(1118.5 282.75) scale(0.9 1)" x="0.00 6.67 13.33" y="0" fill="#FF8040" font-size="12">900</text>
<text transform="translate(1118.5 264.75) scale(0.9 1)" x="0.00 6.67 13.33" y="0" fill="#FF8040" font-size="12">950</text>
<text transform="translate(1118.5 246.75) scale(0.9 1)" x="0.00 6.67 13.33 20.00" y="0" fill="#FF8040" font-size="12">1000</text>
<text transform="translate(1118.5 228.75) scale(0.9 1)" x="0.00 6.67 13.33 20.00" y="0" fill="#FF8040" font-size="12">1050</text>
<text transform="translate(1118.5 210.75) scale(0.9 1)" x="0.00 6.67 13.33 20.00" y="0" fill="#FF8040" font-size="12">1100</text>
<text transform="translate(1118.5 192.75) scale(0.9 1)" x="0.00 6.67 13.33 20.00" y="0" fill="#FF8040" font-size="12">1150</text>
<text transform="translate(1118.5 174.75) scale(0.9 1)" x="0.00 6.67 13.33 20.00" y="0" fill="#FF8040" font-size="12">1200</text>
<text transform="translate(1118.5 156.75) scale(0.9 1)" x="0.00 6.67 13.33 20.00" y="0" fill="#FF8040" font-size="12">1250</text>
<text transform="translate(1118.5 138.75) scale(0.9 1)" x="0.00 6.67 13.33 20.00" y="0" fill="#FF8040" font-size="12">1300</text>
<text transform="translate(1118.5 120.75) scale(0.9 1)" x="0.00 6.67 13.33 20.00" y="0" fill="#FF8040" font-size="12">1350</text>
<text transform="translate(1118.5 102.75) scale(0.9 1)" x="0.00 6.67 13.33 20.00" y="0" fill="#FF8040" font-size="12">1400</text>
<text transform="translate(1118.5 84.75) scale(0.9 1)" x="0.00 6.67 13.33 20.00" y="0" fill="#FF8040" font-size="12">1450</text>
<text transform="translate(1118.5 66.75) scale(0.9 1)" x="0.00 6.67 13.33 20.00" y="0" fill="#FF8040" font-size="12">1500</text>
<text transform="translate(1112.5 50.75) scale(0.9 1)" x="0.00 11.11 15.56 24.44" y="0" fill="#FF8040" font-size="12">W/m²</text>
<text transform="translate(138.5 620.75) scale(0.9 1)" x="0.00 6.67 13.00 16.67 23.33" y="0" fill="#000" font-size="12">00:00</text>
<text transform="translate(173.5 620.75) scale(0.9 1)" x="0.00 6.67 13.00 16.67 23.33" y="0" fill="#000" font-size="12">01:00</text>
<text transform="translate(209.5 620.75) scale(0.9 1)" x="0.00 6.67 13.00 16.67 23.33" y="0" fill="#000" font-size="12">02:00</text>
<text transform="translate(244.5 620.75) scale(0.9 1)" x="0.00 6.67 13.00 16.67 23.33" y="0" fill="#000" font-size="12">03:00</text>
<text transform="translate(280.5 620.75) scale(0.9 1)" x="0.00 6.67 13.00 16.67 23.33" y="0" fill="#000" font-size="12">04:00</text>
<text transform="translate(315.5 620.75) scale(0.9 1)" x="0.00 6.67 13.00 16.67 23.33" y="0" fill="#000" font-size="12">05:00</text>
<text transform="translate(350.5 620.75) scale(0.9 1)" x="0.00 6.67 13.00 16.67 23.33" y="0" fill="#000" font-size="12">06:00</text>
<text transform="translate(386.5 620.75) scale(0.9 1)" x="0.00 6.67 13.00 16.67 23.33" y="0" fill="#000" font-size="12">07:00</text>
<text transform="translate(421.5 620.75) scale(0.9 1)" x="0.00 6.67 13.00 16.67 23.33" y="0" fill="#000" font-size="12">08:00</text>
<text transform="translate(457.5 620.75) scale(0.9 1)" x="0.00 6.67 13.00 16.67 23.33" y="0" fill="#000" font-size="12">09:00</text>
<text transform="translate(492.5 620.75) scale(0.9 1)" x="0.00 6.67 13.00 16.67 23.33" y="0" fill="#000" font-size="12">10:00</text>
<text transform="translate(528.5 620.75) scale(0.9 1)" x="0.00 6.67 13.00 16.67 23.33" y="0" fill="#000" font-size="12">11:00</text>
<text transform="translate(563.5 620.75) scale(0.9 1)" x="0.00 6.67 13.00 16.67 23.33" y="0" fill="#000" font-size="12">12:00</text>
<text transform="translate(598.5 620.75) scale(0.9 1)" x="0.00 6.67 13.00 16.67 23.33" y="0" fill="#000" font-size="12">13:00</text>
<text transform="translate(634.5 620.75) scale(0.9 1)" x="0.00 6.67 13.00 16.67 23.33" y="0" fill="#000" font-size="12">14:00</text>
<text transform="translate(669.5 620.75) scale(0.9 1)" x="0.00 6.67 13.00 16.67 23.33" y="0" fill="#000" font-size="12">15:00</text>
<text transform="translate(705.5 620.75) scale(0.9 1)" x="0.00 6.67 13.00 16.67 23.33" y="0" fill="#000" font-size="12">16:00</text>
<text transform="translate(740.5 620.75) scale(0.9 1)" x="0.00 6.67 13.00 16.67 23.33" y="0" fill="#000" font-size="12">17:00</text>
<text transform="translate(776.5 620.75) scale(0.9 1)" x="0.00 6.67 13.00 16.67 23.33" y="0" fill="#000" font-size="12">18:00</text>
<text transform="translate(811.5 620.75) scale(0.9 1)" x="0.00 6.67 13.00 16.67 23.33" y="0" fill="#000" font-size="12">19:00</text>
<text transform="translate(846.5 620.75) scale(0.9 1)" x="0.00 6.67 13.00 16.67 23.33" y="0" fill="#000" font-size="12">20:00</text>
<text transform="translate(882.5 620.75) scale(0.9 1)" x="0.00 6.67 13.00 16.67 23.33" y="0" fill="#000" font-size="12">21:00</text>
<text transform="translate(917.5 620.75) scale(0.9 1)" x="0.00 6.67 13.00 16.67 23.33" y="0" fill="#000" font-size="12">22:00</text>
<text transform="translate(953.5 620.75) scale(0.9 1)" x="0.00 6.67 13.00 16.67 23.33" y="0" fill="#000" font-size="12">23:00</text>
<text transform="translate(988.5 620.75) scale(0.9 1)" x="0.00 6.67 13.00 16.67 23.33" y="0" fill="#000" font-size="12">24:00</text>
<text transform="translate(349.5 631.75) scale(0.9 1)" x="0.00 6.67 13.00 16.67 23.33" y="0" fill="#000" font-size="12">06:32</text>
<text transform="translate(834.5 631.75) scale(0.9 1)" x="0.00 6.67 13.00 16.67 23.33" y="0" fill="#000" font-size="12">20:14</text>
<text transform="translate(10.5 631.75) scale(0.9 1)" x="0.00 6.67 13.00 16.67 23.33" y="0" fill="#000" font-size="12">13:42</text>
<text transform="translate(100.5 672.75) scale(0.9 1)" x="0.00 6.67 13.00 16.67 23.33" y="0" fill="#000" font-size="12">23:50</text>
<text transform="translate(177.5 672.75) scale(0.9 1)" x="0.00 6.67 13.00 16.67" y="0" fill="#000" font-size="12">13.8</text>
<text transform="translate(100.5 688.75) scale(0.9 1)" x="0.00 6.67 13.00 16.67 23.33" y="0" fill="#000" font-size="12">18:10</text>
<text transform="translate(177.5 688.75) scale(0.9 1)" x="0.00 6.67 13.00 16.67" y="0" fill="#000" font-size="12">24.3</text>
<text transform="translate(171.5 704.75) scale(0.9 1)" x="0.00 6.67 13.00 16.67 23.33" y="0" fill="#000" font-size="12">18.82</text>
<text transform="translate(218.5 672.75) scale(0.9 1)" x="0.00 6.67 13.00 16.67 23.33" y="0" fill="#000" font-size="12">18:10</text>
<text transform="translate(304.5 672.75) scale(0.9 1)" x="0.00 6.67" y="0" fill="#000" font-size="12">51</text>
<text transform="translate(218.5 688.75) scale(0.9 1)" x="0.00 6.67 13.00 16.67 23.33" y="0" fill="#000" font-size="12">01:50</text>
<text transform="translate(304.5 688.75) scale(0.9 1)" x="0.00 6.67" y="0" fill="#000" font-size="12">83</text>
<text transform="translate(304.5 704.75) scale(0.9 1)" x="0.00 6.67" y="0" fill="#000" font-size="12">68</text>
<text transform="translate(336.5 672.75) scale(0.9 1)" x="0.00 6.67 13.00 16.67 23.33" y="0" fill="#000" font-size="12">23:50</text>
<text transform="translate(401.5 672.75) scale(0.9 1)" x="0.00 6.67 13.33 20.00 26.33 30.00" y="0" fill="#000" font-size="12">1013.3</text>
<text transform="translate(336.5 688.75) scale(0.9 1)" x="0.00 6.67 13.00 16.67 23.33" y="0" fill="#000" font-size="12">00:00</text>
<text transform="translate(401.5 688.75) scale(0.9 1)" x="0.00 6.67 13.33 20.00 26.33 30.00" y="0" fill="#000" font-size="12">1020.9</text>
<text transform="translate(330.5 704.75) scale(0.9 1)" x="0.00 5.56 11.89 15.56 22.22 28.89 36.67 43.33 47.78" y="0" fill="#000" font-size="12">^1.2hPa/h</text>
<text transform="translate(401.5 704.75) scale(0.9 1)" x="0.00 6.67 13.33 20.00 26.33 30.00" y="0" fill="#000" font-size="12">1018.3</text>
<text transform="translate(448.5 672.75) scale(0.9 1)" x="0.00 10.00 13.33 20.00 26.67 30.00 38.89 41.11 47.44" y="0" fill="#000" font-size="12">Ø 10 min.</text>
<text transform="translate(537.5 672.75) scale(0.9 1)" x="0.00 6.33 10.00" y="0" fill="#000" font-size="12">0.0</text>
<text transform="translate(454.5 688.75) scale(0.9 1)" x="0.00 6.67 13.00 16.67 23.33" y="0" fill="#000" font-size="12">12:30</text>
<text transform="translate(496.5 688.75) scale(0.9 1)" x="0.00 11.11 15.56 24.44 35.56 38.89 45.56 51.89 55.56" y="0" fill="#000" font-size="12">W-NW 14.6</text>
<text transform="translate(454.5 704.75) scale(0.9 1)" x="0.00 6.33 10.00 16.67 20.00 26.67" y="0" fill="#000" font-size="12">3,9 km</text>
<text transform="translate(537.5 704.75) scale(0.9 1)" x="0.00 6.33 10.00" y="0" fill="#000" font-size="12">3.9</text>
<text transform="translate(572.5 672.75) scale(0.9 1)" x="0.00 6.67 13.00 16.67 23.33" y="0" fill="#000" font-size="12">00:00</text>
<text transform="translate(662.5 672.75) scale(0.9 1)" x="0.00" y="0" fill="#000" font-size="12">N</text>
<text transform="translate(572.5 688.75) scale(0.9 1)" x="0.00 6.67 13.00 16.67 23.33" y="0" fill="#000" font-size="12">12:20</text>
<text transform="translate(652.5 688.75) scale(0.9 1)" x="0.00 8.89" y="0" fill="#000" font-size="12">NW</text>
<text transform="translate(660.5 704.75) scale(0.9 1)" x="0.00" y="0" fill="#000" font-size="12">W</text>
<text transform="translate(690.5 688.75) scale(0.9 1)" x="0.00 6.67 13.00 16.67 23.33" y="0" fill="#000" font-size="12">00:00</text>
<text transform="translate(773.5 688.75) scale(0.9 1)" x="0.00 6.33 10.00" y="0" fill="#000" font-size="12">0.0</text>
<text transform="translate(684.5 704.75) scale(0.9 1)" x="0.00 10.00 16.67 22.22 28.89 37.78 40.78" y="0" fill="#000" font-size="12">Gesamt:</text>
<text transform="translate(773.5 704.75) scale(0.9 1)" x="0.00 6.33 10.00" y="0" fill="#000" font-size="12">0.0</text>
<text transform="translate(920.5 672.75) scale(0.9 1)" x="0.00 11.11 20.00 23.33 30.00 36.33 40.00 46.67 50.00 54.44" y="0" fill="#000" font-size="12">WC 13.8 °C</text>
<text transform="translate(920.5 688.75) scale(0.9 1)" x="0.00 7.78 15.56 18.89 25.56 31.89 35.56 42.22 45.56 50.00" y="0" fill="#000" font-size="12">TP 10.8 °C</text>
<text transform="translate(920.5 704.75) scale(0.9 1)" x="0.00 4.44 10.78 14.44 21.11 27.78 35.56 42.22 46.67 53.33" y="0" fill="#000" font-size="12">-1.7hPa/3h</text></g>
<g filter="url(#binb)"><text transform="translate(8.5 656.75) scale(0.9 1)" x="0.00 8.89 16.67 24.44 31.11 38.89" y="0" fill="#000" font-size="12">Sensor</text>
<text transform="translate(8.5 672.75) scale(0.9 1)" x="0.00 11.11 14.44 22.22 34.44 42.22 47.78" y="0" fill="#000" font-size="12">MinWert</text>
<text transform="translate(8.5 688.75) scale(0.9 1)" x="0.00 11.11 18.89 25.56 37.78 45.56 51.11" y="0" fill="#000" font-size="12">MaxWert</text>
<text transform="translate(8.5 704.75) scale(0.9 1)" x="0.00 10.00 17.78 23.33 30.00 37.78 44.44 51.11 58.89 66.67 70.00 74.44" y="0" fill="#000" font-size="12">Durchschnitt</text>
<text transform="translate(95.5 656.75) scale(0.9 1)" x="0.00 8.89 16.67 26.67 34.11 38.89 43.33 51.89" y="0" fill="#000" font-size="12">Temp. A.</text>
<text transform="translate(184.5 656.75) scale(0.9 1)" x="0.00 5.56" y="0" fill="#000" font-size="12">°C</text>
<text transform="translate(212.5 656.75) scale(0.9 1)" x="0.00 8.89 16.67 24.44 31.11 38.89 43.33 51.11 55.56 64.11" y="0" fill="#000" font-size="12">Feuchte A.</text>
<text transform="translate(306.5 656.75) scale(0.9 1)" x="0.00" y="0" fill="#000" font-size="12">%</text>
<text transform="translate(330.5 656.75) scale(0.9 1)" x="0.00 7.78 15.56 20.00 24.44 32.22 37.78 45.56 52.22" y="0" fill="#000" font-size="12">Luftdruck</text>
<text transform="translate(412.5 656.75) scale(0.9 1)" x="0.00 7.78 16.67" y="0" fill="#000" font-size="12">hPa</text>
<text transform="translate(448.5 656.75) scale(0.9 1)" x="0.00 12.22 15.56 23.33" y="0" fill="#000" font-size="12">Wind</text>
<text transform="translate(524.5 656.75) scale(0.9 1)" x="0.00 7.78 17.78 23.33" y="0" fill="#000" font-size="12">km/h</text>
<text transform="translate(566.5 656.75) scale(0.9 1)" x="0.00 10.00 13.33 20.00 27.78 32.22 40.00 47.78" y="0" fill="#000" font-size="12">Richtung</text>
<text transform="translate(684.5 656.75) scale(0.9 1)" x="0.00 10.00 17.78 25.56 33.33" y="0" fill="#000" font-size="12">Regen</text>
<text transform="translate(766.5 656.75) scale(0.9 1)" x="0.00 3.33 8.89 18.89" y="0" fill="#000" font-size="12">l/m²</text>
<text transform="translate(920.5 656.75) scale(0.9 1)" x="0.00 8.89 20.00 28.89 36.67 44.11 48.89 56.67" y="0" fill="#000" font-size="12">PMV+2:18</text></g>
<g filter="url(#bin2)"><text transform="translate(504.5 20.75) scale(0.94 1)" x="0.00 11.70 21.28 30.85 40.43 44.68 54.26 63.51 68.09 72.34 81.91 91.17 95.74 105.32 114.57 119.15 128.72 138.30 147.87" y="0" fill="#000" font-size="17">Sonntag, 14.04.2024</text></g>
</svg>
</body></html>
